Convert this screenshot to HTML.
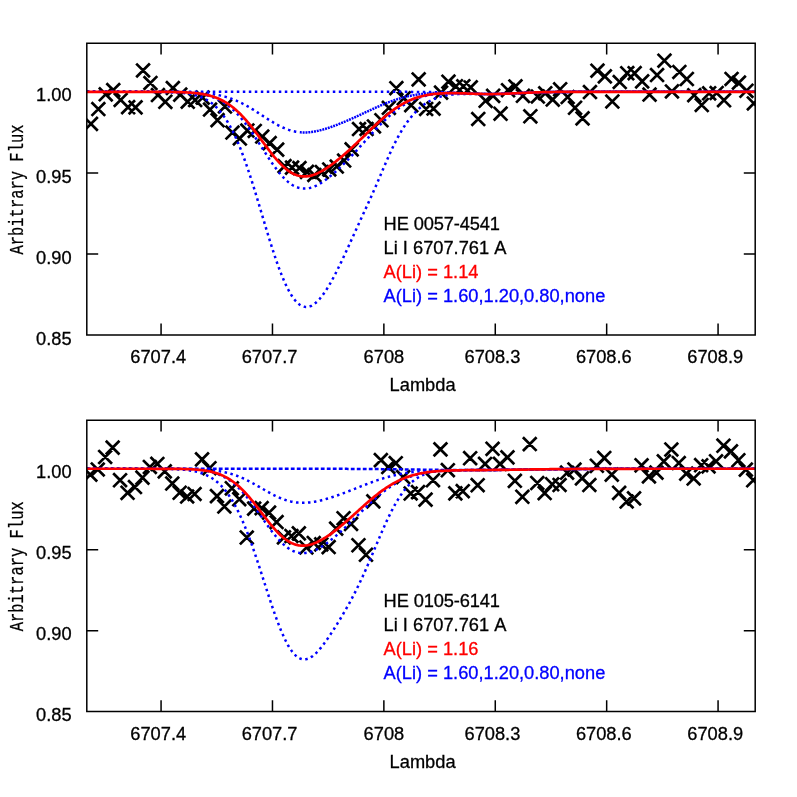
<!DOCTYPE html>
<html><head><meta charset="utf-8"><title>Li fits</title>
<style>
html,body{margin:0;padding:0;background:#fff;}
svg{display:block;will-change:transform;}
text{font-family:"Liberation Sans",sans-serif;font-size:18.25px;fill:#000;font-kerning:none;stroke:#000;stroke-width:0.3px;}
.yl{font-family:"Liberation Mono",monospace;}
</style></head><body>
<svg width="797" height="797" viewBox="0 0 797 797">
<rect x="0" y="0" width="797" height="797" fill="#fff"/>
<defs>
<clipPath id="c0"><rect x="86.8" y="43.2" width="668.4" height="291.8"/></clipPath>
<clipPath id="c1"><rect x="86.8" y="420.2" width="668.4" height="291.4"/></clipPath>
</defs>

<path d="M161.07,335.0v-11.4M161.07,43.2v11.4M272.47,335.0v-11.4M272.47,43.2v11.4M383.87,335.0v-11.4M383.87,43.2v11.4M495.27,335.0v-11.4M495.27,43.2v11.4M606.67,335.0v-11.4M606.67,43.2v11.4M718.07,335.0v-11.4M718.07,43.2v11.4M86.8,253.94h11.4M755.2,253.94h-11.4M86.8,172.89h11.4M755.2,172.89h-11.4M86.8,91.83h11.4M755.2,91.83h-11.4" stroke="#000" stroke-width="1.5" fill="none"/>
<g clip-path="url(#c0)">
<path d="M84.1,117.0l13.7,13.7M84.1,130.7l13.7,-13.7M91.5,102.2l13.7,13.7M91.5,115.9l13.7,-13.7M98.9,87.5l13.7,13.7M98.9,101.1l13.7,-13.7M106.4,83.2l13.7,13.7M106.4,96.9l13.7,-13.7M113.8,93.1l13.7,13.7M113.8,106.8l13.7,-13.7M121.3,100.4l13.7,13.7M121.3,114.0l13.7,-13.7M128.7,100.6l13.7,13.7M128.7,114.2l13.7,-13.7M136.2,63.6l13.7,13.7M136.2,77.2l13.7,-13.7M143.6,76.2l13.7,13.7M143.6,89.8l13.7,-13.7M151.1,88.2l13.7,13.7M151.1,101.9l13.7,-13.7M158.5,95.0l13.7,13.7M158.5,108.6l13.7,-13.7M166.0,81.2l13.7,13.7M166.0,94.9l13.7,-13.7M173.4,87.9l13.7,13.7M173.4,101.5l13.7,-13.7M180.9,94.9l13.7,13.7M180.9,108.5l13.7,-13.7M188.3,93.2l13.7,13.7M188.3,106.9l13.7,-13.7M195.8,90.8l13.7,13.7M195.8,104.4l13.7,-13.7M203.2,102.8l13.7,13.7M203.2,116.4l13.7,-13.7M210.7,113.4l13.7,13.7M210.7,127.0l13.7,-13.7M218.1,99.7l13.7,13.7M218.1,113.3l13.7,-13.7M225.6,125.8l13.7,13.7M225.6,139.4l13.7,-13.7M233.0,131.7l13.7,13.7M233.0,145.3l13.7,-13.7M240.5,123.7l13.7,13.7M240.5,137.3l13.7,-13.7M247.9,124.1l13.7,13.7M247.9,137.8l13.7,-13.7M255.4,129.8l13.7,13.7M255.4,143.4l13.7,-13.7M262.8,136.3l13.7,13.7M262.8,150.0l13.7,-13.7M270.3,142.8l13.7,13.7M270.3,156.5l13.7,-13.7M277.7,159.3l13.7,13.7M277.7,173.0l13.7,-13.7M285.2,160.8l13.7,13.7M285.2,174.5l13.7,-13.7M292.6,161.2l13.7,13.7M292.6,174.9l13.7,-13.7M300.1,165.0l13.7,13.7M300.1,178.7l13.7,-13.7M307.5,168.2l13.7,13.7M307.5,181.8l13.7,-13.7M315.0,165.2l13.7,13.7M315.0,178.8l13.7,-13.7M322.4,162.6l13.7,13.7M322.4,176.2l13.7,-13.7M329.9,159.7l13.7,13.7M329.9,173.3l13.7,-13.7M337.3,153.7l13.7,13.7M337.3,167.3l13.7,-13.7M344.8,142.5l13.7,13.7M344.8,156.2l13.7,-13.7M352.2,122.2l13.7,13.7M352.2,135.9l13.7,-13.7M359.7,122.2l13.7,13.7M359.7,135.8l13.7,-13.7M367.1,119.6l13.7,13.7M367.1,133.2l13.7,-13.7M374.6,113.4l13.7,13.7M374.6,127.0l13.7,-13.7M382.0,101.0l13.7,13.7M382.0,114.6l13.7,-13.7M389.5,81.4l13.7,13.7M389.5,95.0l13.7,-13.7M396.9,91.5l13.7,13.7M396.9,105.1l13.7,-13.7M404.4,98.4l13.7,13.7M404.4,112.0l13.7,-13.7M411.8,72.6l13.7,13.7M411.8,86.2l13.7,-13.7M419.3,102.2l13.7,13.7M419.3,115.8l13.7,-13.7M426.7,101.8l13.7,13.7M426.7,115.4l13.7,-13.7M434.2,85.8l13.7,13.7M434.2,99.4l13.7,-13.7M441.6,74.9l13.7,13.7M441.6,88.5l13.7,-13.7M449.1,79.5l13.7,13.7M449.1,93.1l13.7,-13.7M456.5,79.5l13.7,13.7M456.5,93.1l13.7,-13.7M463.9,80.6l13.7,13.7M463.9,94.2l13.7,-13.7M471.4,112.2l13.7,13.7M471.4,125.8l13.7,-13.7M478.8,94.0l13.7,13.7M478.8,107.6l13.7,-13.7M486.3,89.0l13.7,13.7M486.3,102.6l13.7,-13.7M493.7,106.9l13.7,13.7M493.7,120.5l13.7,-13.7M501.2,83.4l13.7,13.7M501.2,97.0l13.7,-13.7M508.6,79.6l13.7,13.7M508.6,93.2l13.7,-13.7M516.1,89.0l13.7,13.7M516.1,102.6l13.7,-13.7M523.5,109.5l13.7,13.7M523.5,123.1l13.7,-13.7M531.0,89.7l13.7,13.7M531.0,103.3l13.7,-13.7M538.4,86.5l13.7,13.7M538.4,100.1l13.7,-13.7M545.9,92.8l13.7,13.7M545.9,106.4l13.7,-13.7M553.3,82.5l13.7,13.7M553.3,96.1l13.7,-13.7M560.8,90.2l13.7,13.7M560.8,103.9l13.7,-13.7M568.2,101.0l13.7,13.7M568.2,114.6l13.7,-13.7M575.7,111.6l13.7,13.7M575.7,125.2l13.7,-13.7M583.1,85.2l13.7,13.7M583.1,98.9l13.7,-13.7M590.6,63.9l13.7,13.7M590.6,77.5l13.7,-13.7M598.0,69.6l13.7,13.7M598.0,83.2l13.7,-13.7M605.5,94.7l13.7,13.7M605.5,108.3l13.7,-13.7M612.9,75.2l13.7,13.7M612.9,88.8l13.7,-13.7M620.4,66.4l13.7,13.7M620.4,80.0l13.7,-13.7M627.8,66.4l13.7,13.7M627.8,80.0l13.7,-13.7M635.3,74.6l13.7,13.7M635.3,88.2l13.7,-13.7M642.7,87.8l13.7,13.7M642.7,101.4l13.7,-13.7M650.2,68.2l13.7,13.7M650.2,81.9l13.7,-13.7M657.6,53.9l13.7,13.7M657.6,67.5l13.7,-13.7M665.1,84.6l13.7,13.7M665.1,98.2l13.7,-13.7M672.5,65.2l13.7,13.7M672.5,78.8l13.7,-13.7M680.0,72.2l13.7,13.7M680.0,85.8l13.7,-13.7M687.4,88.4l13.7,13.7M687.4,102.0l13.7,-13.7M694.9,98.2l13.7,13.7M694.9,111.8l13.7,-13.7M702.3,86.5l13.7,13.7M702.3,100.1l13.7,-13.7M709.8,86.2l13.7,13.7M709.8,99.8l13.7,-13.7M717.2,93.4l13.7,13.7M717.2,107.0l13.7,-13.7M724.7,72.1l13.7,13.7M724.7,85.8l13.7,-13.7M732.1,75.9l13.7,13.7M732.1,89.5l13.7,-13.7M739.6,84.0l13.7,13.7M739.6,97.6l13.7,-13.7M747.0,96.6l13.7,13.7M747.0,110.2l13.7,-13.7" stroke="#000" stroke-width="2.7" fill="none"/>
<path d="M86.8,91.83 L87.8,91.83 L88.8,91.83 L89.8,91.83 L90.8,91.83 L91.8,91.83 L92.8,91.83 L93.8,91.83 L94.8,91.83 L95.8,91.83 L96.8,91.83 L97.8,91.83 L98.8,91.83 L99.8,91.83 L100.8,91.83 L101.8,91.83 L102.8,91.83 L103.8,91.83 L104.8,91.83 L105.8,91.83 L106.8,91.83 L107.8,91.83 L108.8,91.83 L109.8,91.83 L110.8,91.83 L111.8,91.83 L112.8,91.83 L113.8,91.83 L114.8,91.83 L115.8,91.83 L116.8,91.83 L117.8,91.83 L118.8,91.83 L119.8,91.83 L120.8,91.83 L121.8,91.83 L122.8,91.83 L123.8,91.83 L124.8,91.83 L125.8,91.83 L126.8,91.83 L127.8,91.83 L128.8,91.83 L129.8,91.83 L130.8,91.83 L131.8,91.83 L132.8,91.83 L133.8,91.83 L134.8,91.83 L135.8,91.83 L136.8,91.83 L137.8,91.83 L138.8,91.83 L139.8,91.83 L140.8,91.83 L141.8,91.83 L142.8,91.83 L143.8,91.83 L144.8,91.83 L145.8,91.83 L146.8,91.83 L147.8,91.83 L148.8,91.83 L149.8,91.83 L150.8,91.83 L151.8,91.83 L152.8,91.83 L153.8,91.83 L154.8,91.83 L155.8,91.83 L156.8,91.83 L157.8,91.83 L158.8,91.83 L159.8,91.83 L160.8,91.83 L161.8,91.83 L162.8,91.83 L163.8,91.83 L164.8,91.83 L165.8,91.83 L166.8,91.83 L167.8,91.83 L168.8,91.83 L169.8,91.83 L170.8,91.83 L171.8,91.83 L172.8,91.83 L173.8,91.83 L174.8,91.83 L175.8,91.83 L176.8,91.83 L177.8,91.83 L178.8,91.83 L179.8,91.83 L180.8,91.83 L181.8,91.83 L182.8,91.83 L183.8,91.83 L184.8,91.83 L185.8,91.83 L186.8,91.83 L187.8,91.83 L188.8,91.83 L189.8,91.83 L190.8,91.83 L191.8,91.83 L192.8,91.83 L193.8,91.83 L194.8,91.83 L195.8,91.83 L196.8,91.83 L197.8,91.83 L198.8,91.83 L199.8,91.83 L200.8,91.83 L201.8,91.83 L202.8,91.83 L203.8,91.83 L204.8,91.83 L205.8,91.83 L206.8,91.83 L207.8,91.83 L208.8,91.83 L209.8,91.83 L210.8,91.83 L211.8,91.83 L212.8,91.83 L213.8,91.83 L214.8,91.83 L215.8,91.83 L216.8,91.83 L217.8,91.83 L218.8,91.83 L219.8,91.83 L220.8,91.83 L221.8,91.83 L222.8,91.83 L223.8,91.83 L224.8,91.83 L225.8,91.83 L226.8,91.83 L227.8,91.83 L228.8,91.83 L229.8,91.83 L230.8,91.83 L231.8,91.83 L232.8,91.83 L233.8,91.83 L234.8,91.83 L235.8,91.83 L236.8,91.83 L237.8,91.83 L238.8,91.83 L239.8,91.83 L240.8,91.83 L241.8,91.83 L242.8,91.83 L243.8,91.83 L244.8,91.83 L245.8,91.83 L246.8,91.83 L247.8,91.83 L248.8,91.83 L249.8,91.83 L250.8,91.83 L251.8,91.83 L252.8,91.83 L253.8,91.83 L254.8,91.83 L255.8,91.83 L256.8,91.83 L257.8,91.83 L258.8,91.83 L259.8,91.83 L260.8,91.83 L261.8,91.83 L262.8,91.83 L263.8,91.83 L264.8,91.83 L265.8,91.83 L266.8,91.83 L267.8,91.83 L268.8,91.83 L269.8,91.83 L270.8,91.83 L271.8,91.83 L272.8,91.83 L273.8,91.83 L274.8,91.83 L275.8,91.83 L276.8,91.83 L277.8,91.83 L278.8,91.83 L279.8,91.83 L280.8,91.83 L281.8,91.83 L282.8,91.83 L283.8,91.83 L284.8,91.83 L285.8,91.83 L286.8,91.83 L287.8,91.83 L288.8,91.83 L289.8,91.83 L290.8,91.83 L291.8,91.83 L292.8,91.83 L293.8,91.83 L294.8,91.83 L295.8,91.83 L296.8,91.83 L297.8,91.83 L298.8,91.83 L299.8,91.83 L300.8,91.83 L301.8,91.83 L302.8,91.83 L303.8,91.83 L304.8,91.83 L305.8,91.83 L306.8,91.83 L307.8,91.83 L308.8,91.83 L309.8,91.83 L310.8,91.83 L311.8,91.83 L312.8,91.83 L313.8,91.83 L314.8,91.83 L315.8,91.83 L316.8,91.83 L317.8,91.83 L318.8,91.83 L319.8,91.83 L320.8,91.83 L321.8,91.83 L322.8,91.83 L323.8,91.83 L324.8,91.83 L325.8,91.83 L326.8,91.83 L327.8,91.83 L328.8,91.83 L329.8,91.83 L330.8,91.83 L331.8,91.83 L332.8,91.83 L333.8,91.83 L334.8,91.83 L335.8,91.83 L336.8,91.83 L337.8,91.83 L338.8,91.83 L339.8,91.83 L340.8,91.83 L341.8,91.83 L342.8,91.83 L343.8,91.83 L344.8,91.83 L345.8,91.83 L346.8,91.83 L347.8,91.83 L348.8,91.83 L349.8,91.83 L350.8,91.83 L351.8,91.83 L352.8,91.83 L353.8,91.83 L354.8,91.83 L355.8,91.83 L356.8,91.83 L357.8,91.83 L358.8,91.83 L359.8,91.83 L360.8,91.83 L361.8,91.83 L362.8,91.83 L363.8,91.83 L364.8,91.83 L365.8,91.83 L366.8,91.83 L367.8,91.83 L368.8,91.83 L369.8,91.83 L370.8,91.83 L371.8,91.83 L372.8,91.83 L373.8,91.83 L374.8,91.83 L375.8,91.83 L376.8,91.83 L377.8,91.83 L378.8,91.83 L379.8,91.83 L380.8,91.83 L381.8,91.83 L382.8,91.83 L383.8,91.83 L384.8,91.84 L385.8,91.84 L386.8,91.84 L387.8,91.84 L388.8,91.84 L389.8,91.84 L390.8,91.84 L391.8,91.84 L392.8,91.84 L393.8,91.84 L394.8,91.84 L395.8,91.84 L396.8,91.84 L397.8,91.84 L398.8,91.84 L399.8,91.85 L400.8,91.85 L401.8,91.85 L402.8,91.85 L403.8,91.85 L404.8,91.85 L405.8,91.86 L406.8,91.86 L407.8,91.86 L408.8,91.87 L409.8,91.87 L410.8,91.87 L411.8,91.88 L412.8,91.88 L413.8,91.89 L414.8,91.89 L415.8,91.90 L416.8,91.91 L417.8,91.91 L418.8,91.92 L419.8,91.93 L420.8,91.94 L421.8,91.95 L422.8,91.96 L423.8,91.97 L424.8,91.98 L425.8,91.99 L426.8,92.01 L427.8,92.02 L428.8,92.04 L429.8,92.05 L430.8,92.07 L431.8,92.09 L432.8,92.11 L433.8,92.13 L434.8,92.15 L435.8,92.17 L436.8,92.20 L437.8,92.22 L438.8,92.25 L439.8,92.27 L440.8,92.30 L441.8,92.33 L442.8,92.36 L443.8,92.40 L444.8,92.43 L445.8,92.47 L446.8,92.50 L447.8,92.54 L448.8,92.58 L449.8,92.62 L450.8,92.66 L451.8,92.70 L452.8,92.74 L453.8,92.79 L454.8,92.83 L455.8,92.88 L456.8,92.92 L457.8,92.97 L458.8,93.02 L459.8,93.06 L460.8,93.11 L461.8,93.16 L462.8,93.21 L463.8,93.25 L464.8,93.30 L465.8,93.35 L466.8,93.39 L467.8,93.44 L468.8,93.49 L469.8,93.53 L470.8,93.57 L471.8,93.61 L472.8,93.66 L473.8,93.69 L474.8,93.73 L475.8,93.77 L476.8,93.80 L477.8,93.83 L478.8,93.86 L479.8,93.89 L480.8,93.92 L481.8,93.94 L482.8,93.96 L483.8,93.98 L484.8,94.00 L485.8,94.01 L486.8,94.02 L487.8,94.03 L488.8,94.03 L489.8,94.03 L490.8,94.03 L491.8,94.03 L492.8,94.02 L493.8,94.01 L494.8,94.00 L495.8,93.99 L496.8,93.97 L497.8,93.95 L498.8,93.93 L499.8,93.90 L500.8,93.88 L501.8,93.85 L502.8,93.82 L503.8,93.78 L504.8,93.75 L505.8,93.71 L506.8,93.67 L507.8,93.63 L508.8,93.59 L509.8,93.55 L510.8,93.50 L511.8,93.46 L512.8,93.41 L513.8,93.37 L514.8,93.32 L515.8,93.27 L516.8,93.22 L517.8,93.18 L518.8,93.13 L519.8,93.08 L520.8,93.03 L521.8,92.99 L522.8,92.94 L523.8,92.90 L524.8,92.85 L525.8,92.80 L526.8,92.76 L527.8,92.72 L528.8,92.68 L529.8,92.63 L530.8,92.59 L531.8,92.56 L532.8,92.52 L533.8,92.48 L534.8,92.45 L535.8,92.41 L536.8,92.38 L537.8,92.35 L538.8,92.32 L539.8,92.29 L540.8,92.26 L541.8,92.23 L542.8,92.21 L543.8,92.18 L544.8,92.16 L545.8,92.14 L546.8,92.11 L547.8,92.09 L548.8,92.08 L549.8,92.06 L550.8,92.04 L551.8,92.03 L552.8,92.01 L553.8,92.00 L554.8,91.98 L555.8,91.97 L556.8,91.96 L557.8,91.95 L558.8,91.94 L559.8,91.93 L560.8,91.92 L561.8,91.92 L562.8,91.91 L563.8,91.90 L564.8,91.90 L565.8,91.89 L566.8,91.88 L567.8,91.88 L568.8,91.88 L569.8,91.87 L570.8,91.87 L571.8,91.86 L572.8,91.86 L573.8,91.86 L574.8,91.86 L575.8,91.85 L576.8,91.85 L577.8,91.85 L578.8,91.85 L579.8,91.85 L580.8,91.84 L581.8,91.84 L582.8,91.84 L583.8,91.84 L584.8,91.84 L585.8,91.84 L586.8,91.84 L587.8,91.84 L588.8,91.84 L589.8,91.84 L590.8,91.84 L591.8,91.84 L592.8,91.84 L593.8,91.84 L594.8,91.84 L595.8,91.84 L596.8,91.83 L597.8,91.83 L598.8,91.83 L599.8,91.83 L600.8,91.83 L601.8,91.83 L602.8,91.83 L603.8,91.83 L604.8,91.83 L605.8,91.83 L606.8,91.83 L607.8,91.83 L608.8,91.83 L609.8,91.83 L610.8,91.83 L611.8,91.83 L612.8,91.83 L613.8,91.83 L614.8,91.83 L615.8,91.83 L616.8,91.83 L617.8,91.83 L618.8,91.83 L619.8,91.83 L620.8,91.83 L621.8,91.83 L622.8,91.83 L623.8,91.83 L624.8,91.83 L625.8,91.83 L626.8,91.83 L627.8,91.83 L628.8,91.83 L629.8,91.83 L630.8,91.83 L631.8,91.83 L632.8,91.83 L633.8,91.83 L634.8,91.83 L635.8,91.83 L636.8,91.83 L637.8,91.83 L638.8,91.83 L639.8,91.83 L640.8,91.83 L641.8,91.83 L642.8,91.83 L643.8,91.83 L644.8,91.83 L645.8,91.83 L646.8,91.83 L647.8,91.83 L648.8,91.83 L649.8,91.83 L650.8,91.83 L651.8,91.83 L652.8,91.83 L653.8,91.83 L654.8,91.83 L655.8,91.83 L656.8,91.83 L657.8,91.83 L658.8,91.83 L659.8,91.83 L660.8,91.83 L661.8,91.83 L662.8,91.83 L663.8,91.83 L664.8,91.83 L665.8,91.83 L666.8,91.83 L667.8,91.83 L668.8,91.83 L669.8,91.83 L670.8,91.83 L671.8,91.83 L672.8,91.83 L673.8,91.83 L674.8,91.83 L675.8,91.83 L676.8,91.83 L677.8,91.83 L678.8,91.83 L679.8,91.83 L680.8,91.83 L681.8,91.83 L682.8,91.83 L683.8,91.83 L684.8,91.83 L685.8,91.83 L686.8,91.83 L687.8,91.83 L688.8,91.83 L689.8,91.83 L690.8,91.83 L691.8,91.83 L692.8,91.83 L693.8,91.83 L694.8,91.83 L695.8,91.83 L696.8,91.83 L697.8,91.83 L698.8,91.83 L699.8,91.83 L700.8,91.83 L701.8,91.83 L702.8,91.83 L703.8,91.83 L704.8,91.83 L705.8,91.83 L706.8,91.83 L707.8,91.83 L708.8,91.83 L709.8,91.83 L710.8,91.83 L711.8,91.83 L712.8,91.83 L713.8,91.83 L714.8,91.83 L715.8,91.83 L716.8,91.83 L717.8,91.83 L718.8,91.83 L719.8,91.83 L720.8,91.83 L721.8,91.83 L722.8,91.83 L723.8,91.83 L724.8,91.83 L725.8,91.83 L726.8,91.83 L727.8,91.83 L728.8,91.83 L729.8,91.83 L730.8,91.83 L731.8,91.83 L732.8,91.83 L733.8,91.83 L734.8,91.83 L735.8,91.83 L736.8,91.83 L737.8,91.83 L738.8,91.83 L739.8,91.83 L740.8,91.83 L741.8,91.83 L742.8,91.83 L743.8,91.83 L744.8,91.83 L745.8,91.83 L746.8,91.83 L747.8,91.83 L748.8,91.83 L749.8,91.83 L750.8,91.83 L751.8,91.83 L752.8,91.83 L753.8,91.83 L754.8,91.83" stroke="#0000ff" stroke-width="2.5" stroke-dasharray="2.5 3.5" fill="none"/>
<path d="M86.8,91.83 L87.8,91.83 L88.8,91.83 L89.8,91.83 L90.8,91.83 L91.8,91.83 L92.8,91.83 L93.8,91.83 L94.8,91.83 L95.8,91.83 L96.8,91.83 L97.8,91.83 L98.8,91.83 L99.8,91.83 L100.8,91.83 L101.8,91.83 L102.8,91.83 L103.8,91.83 L104.8,91.83 L105.8,91.83 L106.8,91.83 L107.8,91.83 L108.8,91.83 L109.8,91.83 L110.8,91.83 L111.8,91.83 L112.8,91.83 L113.8,91.83 L114.8,91.83 L115.8,91.83 L116.8,91.83 L117.8,91.83 L118.8,91.83 L119.8,91.83 L120.8,91.83 L121.8,91.83 L122.8,91.83 L123.8,91.83 L124.8,91.83 L125.8,91.83 L126.8,91.83 L127.8,91.83 L128.8,91.83 L129.8,91.83 L130.8,91.83 L131.8,91.83 L132.8,91.83 L133.8,91.83 L134.8,91.83 L135.8,91.83 L136.8,91.83 L137.8,91.83 L138.8,91.83 L139.8,91.84 L140.8,91.84 L141.8,91.84 L142.8,91.84 L143.8,91.84 L144.8,91.84 L145.8,91.84 L146.8,91.84 L147.8,91.84 L148.8,91.84 L149.8,91.84 L150.8,91.84 L151.8,91.84 L152.8,91.84 L153.8,91.84 L154.8,91.84 L155.8,91.85 L156.8,91.85 L157.8,91.85 L158.8,91.85 L159.8,91.85 L160.8,91.85 L161.8,91.86 L162.8,91.86 L163.8,91.86 L164.8,91.87 L165.8,91.87 L166.8,91.87 L167.8,91.88 L168.8,91.88 L169.8,91.89 L170.8,91.90 L171.8,91.90 L172.8,91.91 L173.8,91.92 L174.8,91.93 L175.8,91.94 L176.8,91.95 L177.8,91.96 L178.8,91.97 L179.8,91.99 L180.8,92.00 L181.8,92.02 L182.8,92.04 L183.8,92.06 L184.8,92.08 L185.8,92.10 L186.8,92.13 L187.8,92.15 L188.8,92.18 L189.8,92.21 L190.8,92.25 L191.8,92.29 L192.8,92.33 L193.8,92.37 L194.8,92.41 L195.8,92.46 L196.8,92.52 L197.8,92.58 L198.8,92.64 L199.8,92.70 L200.8,92.78 L201.8,92.85 L202.8,92.93 L203.8,93.02 L204.8,93.11 L205.8,93.21 L206.8,93.31 L207.8,93.43 L208.8,93.54 L209.8,93.67 L210.8,93.80 L211.8,93.94 L212.8,94.09 L213.8,94.25 L214.8,94.42 L215.8,94.59 L216.8,94.78 L217.8,94.97 L218.8,95.18 L219.8,95.39 L220.8,95.62 L221.8,95.85 L222.8,96.10 L223.8,96.36 L224.8,96.63 L225.8,96.92 L226.8,97.21 L227.8,97.52 L228.8,97.84 L229.8,98.18 L230.8,98.53 L231.8,98.89 L232.8,99.26 L233.8,99.65 L234.8,100.05 L235.8,100.46 L236.8,100.89 L237.8,101.33 L238.8,101.79 L239.8,102.26 L240.8,102.74 L241.8,103.23 L242.8,103.74 L243.8,104.26 L244.8,104.79 L245.8,105.33 L246.8,105.89 L247.8,106.45 L248.8,107.03 L249.8,107.61 L250.8,108.21 L251.8,108.81 L252.8,109.42 L253.8,110.04 L254.8,110.67 L255.8,111.30 L256.8,111.94 L257.8,112.59 L258.8,113.23 L259.8,113.88 L260.8,114.54 L261.8,115.19 L262.8,115.84 L263.8,116.50 L264.8,117.15 L265.8,117.80 L266.8,118.44 L267.8,119.08 L268.8,119.72 L269.8,120.35 L270.8,120.97 L271.8,121.58 L272.8,122.19 L273.8,122.78 L274.8,123.36 L275.8,123.93 L276.8,124.49 L277.8,125.03 L278.8,125.56 L279.8,126.07 L280.8,126.57 L281.8,127.05 L282.8,127.51 L283.8,127.95 L284.8,128.38 L285.8,128.78 L286.8,129.17 L287.8,129.53 L288.8,129.88 L289.8,130.20 L290.8,130.50 L291.8,130.78 L292.8,131.04 L293.8,131.28 L294.8,131.49 L295.8,131.69 L296.8,131.86" stroke="#0000ff" stroke-width="2.5" stroke-dasharray="2.5 3.5" fill="none"/>
<path d="M299.8,132.24 L300.8,132.32 L301.8,132.39 L302.8,132.43 L303.8,132.45 L304.8,132.45 L305.8,132.44 L306.8,132.40 L307.8,132.34 L308.8,132.27 L309.8,132.18 L310.8,132.07 L311.8,131.94 L312.8,131.80 L313.8,131.64 L314.8,131.47 L315.8,131.28 L316.8,131.08 L317.8,130.87 L318.8,130.64 L319.8,130.40 L320.8,130.15 L321.8,129.88 L322.8,129.61 L323.8,129.32 L324.8,129.03 L325.8,128.72 L326.8,128.41 L327.8,128.09 L328.8,127.76 L329.8,127.42 L330.8,127.08 L331.8,126.73 L332.8,126.37 L333.8,126.01 L334.8,125.64 L335.8,125.26 L336.8,124.88 L337.8,124.49 L338.8,124.10 L339.8,123.70 L340.8,123.30 L341.8,122.90 L342.8,122.48 L343.8,122.07 L344.8,121.65 L345.8,121.23 L346.8,120.80 L347.8,120.38 L348.8,119.94 L349.8,119.51 L350.8,119.07 L351.8,118.63 L352.8,118.18 L353.8,117.73 L354.8,117.28 L355.8,116.83 L356.8,116.38 L357.8,115.92 L358.8,115.46 L359.8,115.00 L360.8,114.54 L361.8,114.08 L362.8,113.61 L363.8,113.15 L364.8,112.69 L365.8,112.22 L366.8,111.76 L367.8,111.29 L368.8,110.83 L369.8,110.37 L370.8,109.91 L371.8,109.45 L372.8,108.99 L373.8,108.54 L374.8,108.08 L375.8,107.63 L376.8,107.19 L377.8,106.74 L378.8,106.30 L379.8,105.87 L380.8,105.44 L381.8,105.01 L382.8,104.59 L383.8,104.18 L384.8,103.77 L385.8,103.36 L386.8,102.96 L387.8,102.57 L388.8,102.19 L389.8,101.81 L390.8,101.44 L391.8,101.08 L392.8,100.72 L393.8,100.37 L394.8,100.03 L395.8,99.70 L396.8,99.37 L397.8,99.06 L398.8,98.75 L399.8,98.45 L400.8,98.16 L401.8,97.88 L402.8,97.61 L403.8,97.34 L404.8,97.08 L405.8,96.84 L406.8,96.60 L407.8,96.37 L408.8,96.14 L409.8,95.93 L410.8,95.72 L411.8,95.53 L412.8,95.34 L413.8,95.16 L414.8,94.98 L415.8,94.82 L416.8,94.66 L417.8,94.51 L418.8,94.37 L419.8,94.24 L420.8,94.11 L421.8,93.99 L422.8,93.88 L423.8,93.77 L424.8,93.67 L425.8,93.57 L426.8,93.49 L427.8,93.41 L428.8,93.33 L429.8,93.26 L430.8,93.20 L431.8,93.14 L432.8,93.09 L433.8,93.04 L434.8,93.00 L435.8,92.96 L436.8,92.93 L437.8,92.90 L438.8,92.88 L439.8,92.86 L440.8,92.84 L441.8,92.83 L442.8,92.83 L443.8,92.82 L444.8,92.83 L445.8,92.83 L446.8,92.84 L447.8,92.85 L448.8,92.86 L449.8,92.88 L450.8,92.90 L451.8,92.92 L452.8,92.94 L453.8,92.97 L454.8,93.00 L455.8,93.03 L456.8,93.06 L457.8,93.10 L458.8,93.13 L459.8,93.17 L460.8,93.21 L461.8,93.25 L462.8,93.29 L463.8,93.33 L464.8,93.37 L465.8,93.41 L466.8,93.45 L467.8,93.49 L468.8,93.53 L469.8,93.57 L470.8,93.61 L471.8,93.65 L472.8,93.68 L473.8,93.72 L474.8,93.76 L475.8,93.79 L476.8,93.82 L477.8,93.85 L478.8,93.88 L479.8,93.91 L480.8,93.93 L481.8,93.95 L482.8,93.97 L483.8,93.99 L484.8,94.00 L485.8,94.02 L486.8,94.03 L487.8,94.03 L488.8,94.04 L489.8,94.04 L490.8,94.04 L491.8,94.03 L492.8,94.03 L493.8,94.02 L494.8,94.00 L495.8,93.99 L496.8,93.97 L497.8,93.95 L498.8,93.93 L499.8,93.90 L500.8,93.88 L501.8,93.85 L502.8,93.82 L503.8,93.78 L504.8,93.75 L505.8,93.71 L506.8,93.67 L507.8,93.63 L508.8,93.59 L509.8,93.55 L510.8,93.50 L511.8,93.46 L512.8,93.41 L513.8,93.37 L514.8,93.32 L515.8,93.27 L516.8,93.22 L517.8,93.18 L518.8,93.13 L519.8,93.08 L520.8,93.03 L521.8,92.99 L522.8,92.94 L523.8,92.90 L524.8,92.85 L525.8,92.80 L526.8,92.76 L527.8,92.72 L528.8,92.68 L529.8,92.63 L530.8,92.59 L531.8,92.56 L532.8,92.52 L533.8,92.48 L534.8,92.45 L535.8,92.41 L536.8,92.38 L537.8,92.35 L538.8,92.32 L539.8,92.29 L540.8,92.26 L541.8,92.23 L542.8,92.21 L543.8,92.18 L544.8,92.16 L545.8,92.14 L546.8,92.11 L547.8,92.09 L548.8,92.08 L549.8,92.06 L550.8,92.04 L551.8,92.03 L552.8,92.01 L553.8,92.00 L554.8,91.98 L555.8,91.97 L556.8,91.96 L557.8,91.95 L558.8,91.94 L559.8,91.93 L560.8,91.92 L561.8,91.92 L562.8,91.91 L563.8,91.90 L564.8,91.90 L565.8,91.89 L566.8,91.88 L567.8,91.88 L568.8,91.88 L569.8,91.87 L570.8,91.87 L571.8,91.86 L572.8,91.86 L573.8,91.86 L574.8,91.86 L575.8,91.85 L576.8,91.85 L577.8,91.85 L578.8,91.85 L579.8,91.85 L580.8,91.84 L581.8,91.84 L582.8,91.84 L583.8,91.84 L584.8,91.84 L585.8,91.84 L586.8,91.84 L587.8,91.84 L588.8,91.84 L589.8,91.84 L590.8,91.84 L591.8,91.84 L592.8,91.84 L593.8,91.84 L594.8,91.84 L595.8,91.84 L596.8,91.83 L597.8,91.83 L598.8,91.83 L599.8,91.83 L600.8,91.83 L601.8,91.83 L602.8,91.83 L603.8,91.83 L604.8,91.83 L605.8,91.83 L606.8,91.83 L607.8,91.83 L608.8,91.83 L609.8,91.83 L610.8,91.83 L611.8,91.83 L612.8,91.83 L613.8,91.83 L614.8,91.83 L615.8,91.83 L616.8,91.83 L617.8,91.83 L618.8,91.83 L619.8,91.83 L620.8,91.83 L621.8,91.83 L622.8,91.83 L623.8,91.83 L624.8,91.83 L625.8,91.83 L626.8,91.83 L627.8,91.83 L628.8,91.83 L629.8,91.83 L630.8,91.83 L631.8,91.83 L632.8,91.83 L633.8,91.83 L634.8,91.83 L635.8,91.83 L636.8,91.83 L637.8,91.83 L638.8,91.83 L639.8,91.83 L640.8,91.83 L641.8,91.83 L642.8,91.83 L643.8,91.83 L644.8,91.83 L645.8,91.83 L646.8,91.83 L647.8,91.83 L648.8,91.83 L649.8,91.83 L650.8,91.83 L651.8,91.83 L652.8,91.83 L653.8,91.83 L654.8,91.83 L655.8,91.83 L656.8,91.83 L657.8,91.83 L658.8,91.83 L659.8,91.83 L660.8,91.83 L661.8,91.83 L662.8,91.83 L663.8,91.83 L664.8,91.83 L665.8,91.83 L666.8,91.83 L667.8,91.83 L668.8,91.83 L669.8,91.83 L670.8,91.83 L671.8,91.83 L672.8,91.83 L673.8,91.83 L674.8,91.83 L675.8,91.83 L676.8,91.83 L677.8,91.83 L678.8,91.83 L679.8,91.83 L680.8,91.83 L681.8,91.83 L682.8,91.83 L683.8,91.83 L684.8,91.83 L685.8,91.83 L686.8,91.83 L687.8,91.83 L688.8,91.83 L689.8,91.83 L690.8,91.83 L691.8,91.83 L692.8,91.83 L693.8,91.83 L694.8,91.83 L695.8,91.83 L696.8,91.83 L697.8,91.83 L698.8,91.83 L699.8,91.83 L700.8,91.83 L701.8,91.83 L702.8,91.83 L703.8,91.83 L704.8,91.83 L705.8,91.83 L706.8,91.83 L707.8,91.83 L708.8,91.83 L709.8,91.83 L710.8,91.83 L711.8,91.83 L712.8,91.83 L713.8,91.83 L714.8,91.83 L715.8,91.83 L716.8,91.83 L717.8,91.83 L718.8,91.83 L719.8,91.83 L720.8,91.83 L721.8,91.83 L722.8,91.83 L723.8,91.83 L724.8,91.83 L725.8,91.83 L726.8,91.83 L727.8,91.83 L728.8,91.83 L729.8,91.83 L730.8,91.83 L731.8,91.83 L732.8,91.83 L733.8,91.83 L734.8,91.83 L735.8,91.83 L736.8,91.83 L737.8,91.83 L738.8,91.83 L739.8,91.83 L740.8,91.83 L741.8,91.83 L742.8,91.83 L743.8,91.83 L744.8,91.83 L745.8,91.83 L746.8,91.83 L747.8,91.83 L748.8,91.83 L749.8,91.83 L750.8,91.83 L751.8,91.83 L752.8,91.83 L753.8,91.83 L754.8,91.83" stroke="#0000ff" stroke-width="2.5" stroke-dasharray="1.95 0.9" fill="none"/>
<path d="M86.8,91.83 L87.8,91.83 L88.8,91.83 L89.8,91.83 L90.8,91.83 L91.8,91.83 L92.8,91.83 L93.8,91.83 L94.8,91.83 L95.8,91.83 L96.8,91.83 L97.8,91.83 L98.8,91.83 L99.8,91.83 L100.8,91.83 L101.8,91.83 L102.8,91.83 L103.8,91.83 L104.8,91.83 L105.8,91.83 L106.8,91.83 L107.8,91.83 L108.8,91.83 L109.8,91.83 L110.8,91.83 L111.8,91.83 L112.8,91.83 L113.8,91.83 L114.8,91.83 L115.8,91.83 L116.8,91.83 L117.8,91.83 L118.8,91.83 L119.8,91.83 L120.8,91.83 L121.8,91.83 L122.8,91.83 L123.8,91.83 L124.8,91.83 L125.8,91.83 L126.8,91.83 L127.8,91.83 L128.8,91.83 L129.8,91.83 L130.8,91.83 L131.8,91.83 L132.8,91.83 L133.8,91.84 L134.8,91.84 L135.8,91.84 L136.8,91.84 L137.8,91.84 L138.8,91.84 L139.8,91.84 L140.8,91.84 L141.8,91.84 L142.8,91.84 L143.8,91.84 L144.8,91.84 L145.8,91.84 L146.8,91.84 L147.8,91.84 L148.8,91.85 L149.8,91.85 L150.8,91.85 L151.8,91.85 L152.8,91.85 L153.8,91.86 L154.8,91.86 L155.8,91.86 L156.8,91.87 L157.8,91.87 L158.8,91.87 L159.8,91.88 L160.8,91.88 L161.8,91.89 L162.8,91.90 L163.8,91.90 L164.8,91.91 L165.8,91.92 L166.8,91.93 L167.8,91.94 L168.8,91.95 L169.8,91.97 L170.8,91.98 L171.8,92.00 L172.8,92.02 L173.8,92.04 L174.8,92.06 L175.8,92.08 L176.8,92.11 L177.8,92.13 L178.8,92.16 L179.8,92.20 L180.8,92.23 L181.8,92.27 L182.8,92.32 L183.8,92.36 L184.8,92.41 L185.8,92.47 L186.8,92.53 L187.8,92.59 L188.8,92.66 L189.8,92.74 L190.8,92.82 L191.8,92.91 L192.8,93.01 L193.8,93.11 L194.8,93.22 L195.8,93.34 L196.8,93.47 L197.8,93.60 L198.8,93.75 L199.8,93.91 L200.8,94.08 L201.8,94.26 L202.8,94.45 L203.8,94.66 L204.8,94.88 L205.8,95.11 L206.8,95.36 L207.8,95.63 L208.8,95.91 L209.8,96.21 L210.8,96.52 L211.8,96.86 L212.8,97.21 L213.8,97.59 L214.8,97.98 L215.8,98.40 L216.8,98.84 L217.8,99.31 L218.8,99.79 L219.8,100.31 L220.8,100.85 L221.8,101.41 L222.8,102.00 L223.8,102.62 L224.8,103.27 L225.8,103.94 L226.8,104.65 L227.8,105.39 L228.8,106.15 L229.8,106.95 L230.8,107.78 L231.8,108.63 L232.8,109.53 L233.8,110.45 L234.8,111.40 L235.8,112.39 L236.8,113.41 L237.8,114.46 L238.8,115.54 L239.8,116.66 L240.8,117.80 L241.8,118.98 L242.8,120.19 L243.8,121.42 L244.8,122.69 L245.8,123.98 L246.8,125.30 L247.8,126.65 L248.8,128.02 L249.8,129.42 L250.8,130.83 L251.8,132.27 L252.8,133.73 L253.8,135.21 L254.8,136.70 L255.8,138.21 L256.8,139.73 L257.8,141.26 L258.8,142.81 L259.8,144.35 L260.8,145.91 L261.8,147.46 L262.8,149.02 L263.8,150.58 L264.8,152.13 L265.8,153.67 L266.8,155.21 L267.8,156.74 L268.8,158.25 L269.8,159.75 L270.8,161.23 L271.8,162.69 L272.8,164.12 L273.8,165.54 L274.8,166.92 L275.8,168.28 L276.8,169.61 L277.8,170.90 L278.8,172.16 L279.8,173.38 L280.8,174.56 L281.8,175.70 L282.8,176.80 L283.8,177.86 L284.8,178.87 L285.8,179.84 L286.8,180.75 L287.8,181.62 L288.8,182.44 L289.8,183.21 L290.8,183.93 L291.8,184.60 L292.8,185.22 L293.8,185.78 L294.8,186.29 L295.8,186.75 L296.8,187.16 L297.8,187.52 L298.8,187.82 L299.8,188.07 L300.8,188.27 L301.8,188.42 L302.8,188.53 L303.8,188.58 L304.8,188.58 L305.8,188.54 L306.8,188.45 L307.8,188.32 L308.8,188.15 L309.8,187.93 L310.8,187.67 L311.8,187.37 L312.8,187.03 L313.8,186.65 L314.8,186.24 L315.8,185.79 L316.8,185.31 L317.8,184.80 L318.8,184.26 L319.8,183.68 L320.8,183.08 L321.8,182.46 L322.8,181.80 L323.8,181.12 L324.8,180.42 L325.8,179.70 L326.8,178.95 L327.8,178.19 L328.8,177.40 L329.8,176.60 L330.8,175.78 L331.8,174.95 L332.8,174.09 L333.8,173.22 L334.8,172.34 L335.8,171.45 L336.8,170.54 L337.8,169.62 L338.8,168.68 L339.8,167.74 L340.8,166.78 L341.8,165.82 L342.8,164.84 L343.8,163.85 L344.8,162.86 L345.8,161.85 L346.8,160.84 L347.8,159.81 L348.8,158.78 L349.8,157.74 L350.8,156.70 L351.8,155.65 L352.8,154.59 L353.8,153.52 L354.8,152.45 L355.8,151.37 L356.8,150.29 L357.8,149.20 L358.8,148.11 L359.8,147.01 L360.8,145.92 L361.8,144.82 L362.8,143.71 L363.8,142.61 L364.8,141.50 L365.8,140.40 L366.8,139.29 L367.8,138.18 L368.8,137.08 L369.8,135.98 L370.8,134.88 L371.8,133.79 L372.8,132.70 L373.8,131.61 L374.8,130.54 L375.8,129.46 L376.8,128.40 L377.8,127.34 L378.8,126.30 L379.8,125.26 L380.8,124.23 L381.8,123.22 L382.8,122.22 L383.8,121.23 L384.8,120.25 L385.8,119.29 L386.8,118.34 L387.8,117.41 L388.8,116.49 L389.8,115.59 L390.8,114.71 L391.8,113.84 L392.8,112.99 L393.8,112.16 L394.8,111.35 L395.8,110.56 L396.8,109.78 L397.8,109.03 L398.8,108.29 L399.8,107.58 L400.8,106.89 L401.8,106.21 L402.8,105.56 L403.8,104.92 L404.8,104.31 L405.8,103.72 L406.8,103.14 L407.8,102.59 L408.8,102.06 L409.8,101.54 L410.8,101.05 L411.8,100.57 L412.8,100.11 L413.8,99.68 L414.8,99.26 L415.8,98.86 L416.8,98.47 L417.8,98.11 L418.8,97.76 L419.8,97.43 L420.8,97.11 L421.8,96.81 L422.8,96.53 L423.8,96.26 L424.8,96.00 L425.8,95.76 L426.8,95.54 L427.8,95.32 L428.8,95.12 L429.8,94.94 L430.8,94.76 L431.8,94.60 L432.8,94.45 L433.8,94.30 L434.8,94.17 L435.8,94.05 L436.8,93.94 L437.8,93.84 L438.8,93.75 L439.8,93.67 L440.8,93.59 L441.8,93.53 L442.8,93.47 L443.8,93.42 L444.8,93.37 L445.8,93.33 L446.8,93.30 L447.8,93.27 L448.8,93.25 L449.8,93.24 L450.8,93.23 L451.8,93.22 L452.8,93.22 L453.8,93.23 L454.8,93.23 L455.8,93.24 L456.8,93.26 L457.8,93.27 L458.8,93.29 L459.8,93.32 L460.8,93.34 L461.8,93.37 L462.8,93.40 L463.8,93.43 L464.8,93.46 L465.8,93.49 L466.8,93.52 L467.8,93.56 L468.8,93.59 L469.8,93.62 L470.8,93.66 L471.8,93.69 L472.8,93.73 L473.8,93.76 L474.8,93.79 L475.8,93.82 L476.8,93.85 L477.8,93.88 L478.8,93.90 L479.8,93.93 L480.8,93.95 L481.8,93.97 L482.8,93.99 L483.8,94.00 L484.8,94.01 L485.8,94.03 L486.8,94.03 L487.8,94.04 L488.8,94.04 L489.8,94.04 L490.8,94.04 L491.8,94.04 L492.8,94.03 L493.8,94.02 L494.8,94.01 L495.8,93.99 L496.8,93.97 L497.8,93.95 L498.8,93.93 L499.8,93.91 L500.8,93.88 L501.8,93.85 L502.8,93.82 L503.8,93.78 L504.8,93.75 L505.8,93.71 L506.8,93.67 L507.8,93.63 L508.8,93.59 L509.8,93.55 L510.8,93.50 L511.8,93.46 L512.8,93.41 L513.8,93.37 L514.8,93.32 L515.8,93.27 L516.8,93.23 L517.8,93.18 L518.8,93.13 L519.8,93.08 L520.8,93.03 L521.8,92.99 L522.8,92.94 L523.8,92.90 L524.8,92.85 L525.8,92.80 L526.8,92.76 L527.8,92.72 L528.8,92.68 L529.8,92.63 L530.8,92.59 L531.8,92.56 L532.8,92.52 L533.8,92.48 L534.8,92.45 L535.8,92.41 L536.8,92.38 L537.8,92.35 L538.8,92.32 L539.8,92.29 L540.8,92.26 L541.8,92.23 L542.8,92.21 L543.8,92.18 L544.8,92.16 L545.8,92.14 L546.8,92.11 L547.8,92.09 L548.8,92.08 L549.8,92.06 L550.8,92.04 L551.8,92.03 L552.8,92.01 L553.8,92.00 L554.8,91.98 L555.8,91.97 L556.8,91.96 L557.8,91.95 L558.8,91.94 L559.8,91.93 L560.8,91.92 L561.8,91.92 L562.8,91.91 L563.8,91.90 L564.8,91.90 L565.8,91.89 L566.8,91.88 L567.8,91.88 L568.8,91.88 L569.8,91.87 L570.8,91.87 L571.8,91.86 L572.8,91.86 L573.8,91.86 L574.8,91.86 L575.8,91.85 L576.8,91.85 L577.8,91.85 L578.8,91.85 L579.8,91.85 L580.8,91.84 L581.8,91.84 L582.8,91.84 L583.8,91.84 L584.8,91.84 L585.8,91.84 L586.8,91.84 L587.8,91.84 L588.8,91.84 L589.8,91.84 L590.8,91.84 L591.8,91.84 L592.8,91.84 L593.8,91.84 L594.8,91.84 L595.8,91.84 L596.8,91.83 L597.8,91.83 L598.8,91.83 L599.8,91.83 L600.8,91.83 L601.8,91.83 L602.8,91.83 L603.8,91.83 L604.8,91.83 L605.8,91.83 L606.8,91.83 L607.8,91.83 L608.8,91.83 L609.8,91.83 L610.8,91.83 L611.8,91.83 L612.8,91.83 L613.8,91.83 L614.8,91.83 L615.8,91.83 L616.8,91.83 L617.8,91.83 L618.8,91.83 L619.8,91.83 L620.8,91.83 L621.8,91.83 L622.8,91.83 L623.8,91.83 L624.8,91.83 L625.8,91.83 L626.8,91.83 L627.8,91.83 L628.8,91.83 L629.8,91.83 L630.8,91.83 L631.8,91.83 L632.8,91.83 L633.8,91.83 L634.8,91.83 L635.8,91.83 L636.8,91.83 L637.8,91.83 L638.8,91.83 L639.8,91.83 L640.8,91.83 L641.8,91.83 L642.8,91.83 L643.8,91.83 L644.8,91.83 L645.8,91.83 L646.8,91.83 L647.8,91.83 L648.8,91.83 L649.8,91.83 L650.8,91.83 L651.8,91.83 L652.8,91.83 L653.8,91.83 L654.8,91.83 L655.8,91.83 L656.8,91.83 L657.8,91.83 L658.8,91.83 L659.8,91.83 L660.8,91.83 L661.8,91.83 L662.8,91.83 L663.8,91.83 L664.8,91.83 L665.8,91.83 L666.8,91.83 L667.8,91.83 L668.8,91.83 L669.8,91.83 L670.8,91.83 L671.8,91.83 L672.8,91.83 L673.8,91.83 L674.8,91.83 L675.8,91.83 L676.8,91.83 L677.8,91.83 L678.8,91.83 L679.8,91.83 L680.8,91.83 L681.8,91.83 L682.8,91.83 L683.8,91.83 L684.8,91.83 L685.8,91.83 L686.8,91.83 L687.8,91.83 L688.8,91.83 L689.8,91.83 L690.8,91.83 L691.8,91.83 L692.8,91.83 L693.8,91.83 L694.8,91.83 L695.8,91.83 L696.8,91.83 L697.8,91.83 L698.8,91.83 L699.8,91.83 L700.8,91.83 L701.8,91.83 L702.8,91.83 L703.8,91.83 L704.8,91.83 L705.8,91.83 L706.8,91.83 L707.8,91.83 L708.8,91.83 L709.8,91.83 L710.8,91.83 L711.8,91.83 L712.8,91.83 L713.8,91.83 L714.8,91.83 L715.8,91.83 L716.8,91.83 L717.8,91.83 L718.8,91.83 L719.8,91.83 L720.8,91.83 L721.8,91.83 L722.8,91.83 L723.8,91.83 L724.8,91.83 L725.8,91.83 L726.8,91.83 L727.8,91.83 L728.8,91.83 L729.8,91.83 L730.8,91.83 L731.8,91.83 L732.8,91.83 L733.8,91.83 L734.8,91.83 L735.8,91.83 L736.8,91.83 L737.8,91.83 L738.8,91.83 L739.8,91.83 L740.8,91.83 L741.8,91.83 L742.8,91.83 L743.8,91.83 L744.8,91.83 L745.8,91.83 L746.8,91.83 L747.8,91.83 L748.8,91.83 L749.8,91.83 L750.8,91.83 L751.8,91.83 L752.8,91.83 L753.8,91.83 L754.8,91.83" stroke="#0000ff" stroke-width="2.5" stroke-dasharray="2.5 3.5" fill="none"/>
<path d="M86.8,91.83 L87.8,91.83 L88.8,91.83 L89.8,91.83 L90.8,91.83 L91.8,91.83 L92.8,91.83 L93.8,91.83 L94.8,91.83 L95.8,91.83 L96.8,91.83 L97.8,91.83 L98.8,91.83 L99.8,91.83 L100.8,91.83 L101.8,91.83 L102.8,91.83 L103.8,91.83 L104.8,91.83 L105.8,91.83 L106.8,91.83 L107.8,91.83 L108.8,91.83 L109.8,91.83 L110.8,91.83 L111.8,91.83 L112.8,91.83 L113.8,91.83 L114.8,91.83 L115.8,91.83 L116.8,91.83 L117.8,91.83 L118.8,91.83 L119.8,91.83 L120.8,91.83 L121.8,91.83 L122.8,91.83 L123.8,91.83 L124.8,91.83 L125.8,91.84 L126.8,91.84 L127.8,91.84 L128.8,91.84 L129.8,91.84 L130.8,91.84 L131.8,91.84 L132.8,91.84 L133.8,91.84 L134.8,91.84 L135.8,91.84 L136.8,91.84 L137.8,91.84 L138.8,91.84 L139.8,91.84 L140.8,91.85 L141.8,91.85 L142.8,91.85 L143.8,91.85 L144.8,91.85 L145.8,91.86 L146.8,91.86 L147.8,91.86 L148.8,91.87 L149.8,91.87 L150.8,91.87 L151.8,91.88 L152.8,91.89 L153.8,91.89 L154.8,91.90 L155.8,91.91 L156.8,91.92 L157.8,91.93 L158.8,91.94 L159.8,91.95 L160.8,91.96 L161.8,91.98 L162.8,91.99 L163.8,92.01 L164.8,92.03 L165.8,92.05 L166.8,92.08 L167.8,92.10 L168.8,92.13 L169.8,92.16 L170.8,92.20 L171.8,92.24 L172.8,92.28 L173.8,92.32 L174.8,92.37 L175.8,92.43 L176.8,92.49 L177.8,92.56 L178.8,92.63 L179.8,92.71 L180.8,92.79 L181.8,92.88 L182.8,92.98 L183.8,93.09 L184.8,93.21 L185.8,93.34 L186.8,93.48 L187.8,93.63 L188.8,93.79 L189.8,93.96 L190.8,94.15 L191.8,94.36 L192.8,94.57 L193.8,94.81 L194.8,95.06 L195.8,95.34 L196.8,95.63 L197.8,95.94 L198.8,96.28 L199.8,96.63 L200.8,97.02 L201.8,97.43 L202.8,97.87 L203.8,98.33 L204.8,98.83 L205.8,99.36 L206.8,99.92 L207.8,100.52 L208.8,101.15 L209.8,101.82 L210.8,102.53 L211.8,103.29 L212.8,104.08 L213.8,104.92 L214.8,105.81 L215.8,106.74 L216.8,107.73 L217.8,108.76 L218.8,109.85 L219.8,110.99 L220.8,112.19 L221.8,113.45 L222.8,114.76 L223.8,116.14 L224.8,117.57 L225.8,119.07 L226.8,120.64 L227.8,122.26 L228.8,123.96 L229.8,125.72 L230.8,127.54 L231.8,129.44 L232.8,131.40 L233.8,133.43 L234.8,135.54 L235.8,137.71 L236.8,139.94 L237.8,142.25 L238.8,144.63 L239.8,147.07 L240.8,149.57 L241.8,152.15 L242.8,154.78 L243.8,157.48 L244.8,160.24 L245.8,163.06 L246.8,165.94 L247.8,168.87 L248.8,171.85 L249.8,174.89 L250.8,177.96 L251.8,181.09 L252.8,184.25 L253.8,187.45 L254.8,190.69 L255.8,193.95 L256.8,197.25 L257.8,200.56 L258.8,203.89 L259.8,207.24 L260.8,210.60 L261.8,213.96 L262.8,217.33 L263.8,220.69 L264.8,224.04 L265.8,227.38 L266.8,230.70 L267.8,234.00 L268.8,237.28 L269.8,240.52 L270.8,243.73 L271.8,246.90 L272.8,250.03 L273.8,253.10 L274.8,256.12 L275.8,259.09 L276.8,261.99 L277.8,264.83 L278.8,267.60 L279.8,270.29 L280.8,272.91 L281.8,275.45 L282.8,277.90 L283.8,280.27 L284.8,282.55 L285.8,284.74 L286.8,286.83 L287.8,288.83 L288.8,290.73 L289.8,292.53 L290.8,294.22 L291.8,295.82 L292.8,297.30 L293.8,298.69 L294.8,299.96 L295.8,301.13 L296.8,302.19 L297.8,303.14 L298.8,303.99 L299.8,304.73 L300.8,305.36 L301.8,305.88 L302.8,306.30 L303.8,306.61 L304.8,306.82 L305.8,306.93 L306.8,306.94 L307.8,306.85 L308.8,306.66 L309.8,306.37 L310.8,305.99 L311.8,305.52 L312.8,304.96 L313.8,304.32 L314.8,303.59 L315.8,302.77 L316.8,301.88 L317.8,300.90 L318.8,299.86 L319.8,298.74 L320.8,297.55 L321.8,296.29 L322.8,294.97 L323.8,293.59 L324.8,292.14 L325.8,290.64 L326.8,289.09 L327.8,287.48 L328.8,285.83 L329.8,284.12 L330.8,282.37 L331.8,280.58 L332.8,278.75 L333.8,276.88 L334.8,274.98 L335.8,273.04 L336.8,271.07 L337.8,269.07 L338.8,267.04 L339.8,264.99 L340.8,262.91 L341.8,260.81 L342.8,258.69 L343.8,256.56 L344.8,254.41 L345.8,252.24 L346.8,250.07 L347.8,247.88 L348.8,245.68 L349.8,243.48 L350.8,241.28 L351.8,239.07 L352.8,236.87 L353.8,234.66 L354.8,232.45 L355.8,230.25 L356.8,228.06 L357.8,225.86 L358.8,223.67 L359.8,221.49 L360.8,219.31 L361.8,217.14 L362.8,214.97 L363.8,212.79 L364.8,210.62 L365.8,208.45 L366.8,206.27 L367.8,204.09 L368.8,201.89 L369.8,199.69 L370.8,197.47 L371.8,195.24 L372.8,192.99 L373.8,190.73 L374.8,188.45 L375.8,186.16 L376.8,183.85 L377.8,181.52 L378.8,179.19 L379.8,176.84 L380.8,174.49 L381.8,172.14 L382.8,169.78 L383.8,167.44 L384.8,165.10 L385.8,162.78 L386.8,160.47 L387.8,158.19 L388.8,155.93 L389.8,153.71 L390.8,151.52 L391.8,149.37 L392.8,147.26 L393.8,145.19 L394.8,143.17 L395.8,141.20 L396.8,139.27 L397.8,137.39 L398.8,135.56 L399.8,133.79 L400.8,132.06 L401.8,130.38 L402.8,128.75 L403.8,127.17 L404.8,125.63 L405.8,124.15 L406.8,122.71 L407.8,121.32 L408.8,119.98 L409.8,118.68 L410.8,117.42 L411.8,116.21 L412.8,115.04 L413.8,113.91 L414.8,112.82 L415.8,111.78 L416.8,110.77 L417.8,109.81 L418.8,108.88 L419.8,107.99 L420.8,107.13 L421.8,106.32 L422.8,105.54 L423.8,104.79 L424.8,104.08 L425.8,103.40 L426.8,102.75 L427.8,102.13 L428.8,101.55 L429.8,100.99 L430.8,100.47 L431.8,99.97 L432.8,99.50 L433.8,99.05 L434.8,98.63 L435.8,98.24 L436.8,97.86 L437.8,97.52 L438.8,97.19 L439.8,96.88 L440.8,96.60 L441.8,96.33 L442.8,96.09 L443.8,95.86 L444.8,95.64 L445.8,95.45 L446.8,95.27 L447.8,95.10 L448.8,94.95 L449.8,94.82 L450.8,94.69 L451.8,94.58 L452.8,94.48 L453.8,94.39 L454.8,94.30 L455.8,94.23 L456.8,94.17 L457.8,94.12 L458.8,94.07 L459.8,94.03 L460.8,94.00 L461.8,93.97 L462.8,93.95 L463.8,93.94 L464.8,93.92 L465.8,93.92 L466.8,93.91 L467.8,93.91 L468.8,93.92 L469.8,93.92 L470.8,93.93 L471.8,93.94 L472.8,93.95 L473.8,93.96 L474.8,93.98 L475.8,93.99 L476.8,94.00 L477.8,94.02 L478.8,94.03 L479.8,94.04 L480.8,94.05 L481.8,94.06 L482.8,94.07 L483.8,94.08 L484.8,94.08 L485.8,94.09 L486.8,94.09 L487.8,94.09 L488.8,94.09 L489.8,94.08 L490.8,94.08 L491.8,94.07 L492.8,94.06 L493.8,94.05 L494.8,94.03 L495.8,94.01 L496.8,93.99 L497.8,93.97 L498.8,93.95 L499.8,93.92 L500.8,93.89 L501.8,93.86 L502.8,93.83 L503.8,93.79 L504.8,93.76 L505.8,93.72 L506.8,93.68 L507.8,93.64 L508.8,93.59 L509.8,93.55 L510.8,93.51 L511.8,93.46 L512.8,93.42 L513.8,93.37 L514.8,93.32 L515.8,93.27 L516.8,93.23 L517.8,93.18 L518.8,93.13 L519.8,93.08 L520.8,93.04 L521.8,92.99 L522.8,92.94 L523.8,92.90 L524.8,92.85 L525.8,92.81 L526.8,92.76 L527.8,92.72 L528.8,92.68 L529.8,92.63 L530.8,92.59 L531.8,92.56 L532.8,92.52 L533.8,92.48 L534.8,92.45 L535.8,92.41 L536.8,92.38 L537.8,92.35 L538.8,92.32 L539.8,92.29 L540.8,92.26 L541.8,92.23 L542.8,92.21 L543.8,92.18 L544.8,92.16 L545.8,92.14 L546.8,92.11 L547.8,92.09 L548.8,92.08 L549.8,92.06 L550.8,92.04 L551.8,92.03 L552.8,92.01 L553.8,92.00 L554.8,91.98 L555.8,91.97 L556.8,91.96 L557.8,91.95 L558.8,91.94 L559.8,91.93 L560.8,91.92 L561.8,91.92 L562.8,91.91 L563.8,91.90 L564.8,91.90 L565.8,91.89 L566.8,91.88 L567.8,91.88 L568.8,91.88 L569.8,91.87 L570.8,91.87 L571.8,91.86 L572.8,91.86 L573.8,91.86 L574.8,91.86 L575.8,91.85 L576.8,91.85 L577.8,91.85 L578.8,91.85 L579.8,91.85 L580.8,91.84 L581.8,91.84 L582.8,91.84 L583.8,91.84 L584.8,91.84 L585.8,91.84 L586.8,91.84 L587.8,91.84 L588.8,91.84 L589.8,91.84 L590.8,91.84 L591.8,91.84 L592.8,91.84 L593.8,91.84 L594.8,91.84 L595.8,91.84 L596.8,91.83 L597.8,91.83 L598.8,91.83 L599.8,91.83 L600.8,91.83 L601.8,91.83 L602.8,91.83 L603.8,91.83 L604.8,91.83 L605.8,91.83 L606.8,91.83 L607.8,91.83 L608.8,91.83 L609.8,91.83 L610.8,91.83 L611.8,91.83 L612.8,91.83 L613.8,91.83 L614.8,91.83 L615.8,91.83 L616.8,91.83 L617.8,91.83 L618.8,91.83 L619.8,91.83 L620.8,91.83 L621.8,91.83 L622.8,91.83 L623.8,91.83 L624.8,91.83 L625.8,91.83 L626.8,91.83 L627.8,91.83 L628.8,91.83 L629.8,91.83 L630.8,91.83 L631.8,91.83 L632.8,91.83 L633.8,91.83 L634.8,91.83 L635.8,91.83 L636.8,91.83 L637.8,91.83 L638.8,91.83 L639.8,91.83 L640.8,91.83 L641.8,91.83 L642.8,91.83 L643.8,91.83 L644.8,91.83 L645.8,91.83 L646.8,91.83 L647.8,91.83 L648.8,91.83 L649.8,91.83 L650.8,91.83 L651.8,91.83 L652.8,91.83 L653.8,91.83 L654.8,91.83 L655.8,91.83 L656.8,91.83 L657.8,91.83 L658.8,91.83 L659.8,91.83 L660.8,91.83 L661.8,91.83 L662.8,91.83 L663.8,91.83 L664.8,91.83 L665.8,91.83 L666.8,91.83 L667.8,91.83 L668.8,91.83 L669.8,91.83 L670.8,91.83 L671.8,91.83 L672.8,91.83 L673.8,91.83 L674.8,91.83 L675.8,91.83 L676.8,91.83 L677.8,91.83 L678.8,91.83 L679.8,91.83 L680.8,91.83 L681.8,91.83 L682.8,91.83 L683.8,91.83 L684.8,91.83 L685.8,91.83 L686.8,91.83 L687.8,91.83 L688.8,91.83 L689.8,91.83 L690.8,91.83 L691.8,91.83 L692.8,91.83 L693.8,91.83 L694.8,91.83 L695.8,91.83 L696.8,91.83 L697.8,91.83 L698.8,91.83 L699.8,91.83 L700.8,91.83 L701.8,91.83 L702.8,91.83 L703.8,91.83 L704.8,91.83 L705.8,91.83 L706.8,91.83 L707.8,91.83 L708.8,91.83 L709.8,91.83 L710.8,91.83 L711.8,91.83 L712.8,91.83 L713.8,91.83 L714.8,91.83 L715.8,91.83 L716.8,91.83 L717.8,91.83 L718.8,91.83 L719.8,91.83 L720.8,91.83 L721.8,91.83 L722.8,91.83 L723.8,91.83 L724.8,91.83 L725.8,91.83 L726.8,91.83 L727.8,91.83 L728.8,91.83 L729.8,91.83 L730.8,91.83 L731.8,91.83 L732.8,91.83 L733.8,91.83 L734.8,91.83 L735.8,91.83 L736.8,91.83 L737.8,91.83 L738.8,91.83 L739.8,91.83 L740.8,91.83 L741.8,91.83 L742.8,91.83 L743.8,91.83 L744.8,91.83 L745.8,91.83 L746.8,91.83 L747.8,91.83 L748.8,91.83 L749.8,91.83 L750.8,91.83 L751.8,91.83 L752.8,91.83 L753.8,91.83 L754.8,91.83" stroke="#0000ff" stroke-width="2.5" stroke-dasharray="2.5 3.5" fill="none"/>
<path d="M86.8,91.83 L87.8,91.83 L88.8,91.83 L89.8,91.83 L90.8,91.83 L91.8,91.83 L92.8,91.83 L93.8,91.83 L94.8,91.83 L95.8,91.83 L96.8,91.83 L97.8,91.83 L98.8,91.83 L99.8,91.83 L100.8,91.83 L101.8,91.83 L102.8,91.83 L103.8,91.83 L104.8,91.83 L105.8,91.83 L106.8,91.83 L107.8,91.83 L108.8,91.83 L109.8,91.83 L110.8,91.83 L111.8,91.83 L112.8,91.83 L113.8,91.83 L114.8,91.83 L115.8,91.83 L116.8,91.83 L117.8,91.83 L118.8,91.83 L119.8,91.83 L120.8,91.83 L121.8,91.83 L122.8,91.83 L123.8,91.83 L124.8,91.83 L125.8,91.83 L126.8,91.83 L127.8,91.83 L128.8,91.83 L129.8,91.83 L130.8,91.83 L131.8,91.83 L132.8,91.83 L133.8,91.83 L134.8,91.84 L135.8,91.84 L136.8,91.84 L137.8,91.84 L138.8,91.84 L139.8,91.84 L140.8,91.84 L141.8,91.84 L142.8,91.84 L143.8,91.84 L144.8,91.84 L145.8,91.84 L146.8,91.84 L147.8,91.84 L148.8,91.84 L149.8,91.85 L150.8,91.85 L151.8,91.85 L152.8,91.85 L153.8,91.85 L154.8,91.86 L155.8,91.86 L156.8,91.86 L157.8,91.87 L158.8,91.87 L159.8,91.87 L160.8,91.88 L161.8,91.88 L162.8,91.89 L163.8,91.90 L164.8,91.90 L165.8,91.91 L166.8,91.92 L167.8,91.93 L168.8,91.94 L169.8,91.95 L170.8,91.96 L171.8,91.98 L172.8,91.99 L173.8,92.01 L174.8,92.03 L175.8,92.05 L176.8,92.07 L177.8,92.10 L178.8,92.12 L179.8,92.15 L180.8,92.18 L181.8,92.22 L182.8,92.26 L183.8,92.30 L184.8,92.34 L185.8,92.39 L186.8,92.44 L187.8,92.50 L188.8,92.56 L189.8,92.63 L190.8,92.70 L191.8,92.77 L192.8,92.86 L193.8,92.95 L194.8,93.04 L195.8,93.15 L196.8,93.26 L197.8,93.38 L198.8,93.51 L199.8,93.65 L200.8,93.80 L201.8,93.95 L202.8,94.12 L203.8,94.30 L204.8,94.49 L205.8,94.70 L206.8,94.92 L207.8,95.15 L208.8,95.40 L209.8,95.66 L210.8,95.93 L211.8,96.23 L212.8,96.54 L213.8,96.87 L214.8,97.21 L215.8,97.58 L216.8,97.96 L217.8,98.37 L218.8,98.79 L219.8,99.24 L220.8,99.71 L221.8,100.21 L222.8,100.73 L223.8,101.27 L224.8,101.83 L225.8,102.42 L226.8,103.04 L227.8,103.68 L228.8,104.35 L229.8,105.05 L230.8,105.77 L231.8,106.53 L232.8,107.30 L233.8,108.11 L234.8,108.95 L235.8,109.81 L236.8,110.70 L237.8,111.62 L238.8,112.57 L239.8,113.54 L240.8,114.54 L241.8,115.57 L242.8,116.63 L243.8,117.71 L244.8,118.81 L245.8,119.95 L246.8,121.10 L247.8,122.28 L248.8,123.48 L249.8,124.70 L250.8,125.94 L251.8,127.20 L252.8,128.47 L253.8,129.76 L254.8,131.07 L255.8,132.39 L256.8,133.72 L257.8,135.06 L258.8,136.41 L259.8,137.76 L260.8,139.12 L261.8,140.48 L262.8,141.84 L263.8,143.20 L264.8,144.56 L265.8,145.91 L266.8,147.25 L267.8,148.59 L268.8,149.91 L269.8,151.22 L270.8,152.52 L271.8,153.79 L272.8,155.05 L273.8,156.28 L274.8,157.50 L275.8,158.68 L276.8,159.84 L277.8,160.97 L278.8,162.07 L279.8,163.14 L280.8,164.17 L281.8,165.17 L282.8,166.13 L283.8,167.06 L284.8,167.94 L285.8,168.79 L286.8,169.59 L287.8,170.35 L288.8,171.07 L289.8,171.74 L290.8,172.37 L291.8,172.95 L292.8,173.49 L293.8,173.99 L294.8,174.43 L295.8,174.84 L296.8,175.19 L297.8,175.50 L298.8,175.77 L299.8,175.99 L300.8,176.17 L301.8,176.30 L302.8,176.39 L303.8,176.43 L304.8,176.44 L305.8,176.40 L306.8,176.32 L307.8,176.21 L308.8,176.05 L309.8,175.86 L310.8,175.64 L311.8,175.37 L312.8,175.08 L313.8,174.75 L314.8,174.39 L315.8,174.00 L316.8,173.58 L317.8,173.13 L318.8,172.65 L319.8,172.15 L320.8,171.63 L321.8,171.08 L322.8,170.51 L323.8,169.91 L324.8,169.30 L325.8,168.67 L326.8,168.02 L327.8,167.35 L328.8,166.66 L329.8,165.96 L330.8,165.24 L331.8,164.51 L332.8,163.77 L333.8,163.01 L334.8,162.24 L335.8,161.45 L336.8,160.66 L337.8,159.85 L338.8,159.04 L339.8,158.21 L340.8,157.37 L341.8,156.53 L342.8,155.67 L343.8,154.81 L344.8,153.94 L345.8,153.06 L346.8,152.17 L347.8,151.28 L348.8,150.38 L349.8,149.47 L350.8,148.56 L351.8,147.63 L352.8,146.71 L353.8,145.78 L354.8,144.84 L355.8,143.90 L356.8,142.95 L357.8,142.00 L358.8,141.04 L359.8,140.09 L360.8,139.13 L361.8,138.16 L362.8,137.20 L363.8,136.23 L364.8,135.27 L365.8,134.30 L366.8,133.33 L367.8,132.37 L368.8,131.40 L369.8,130.44 L370.8,129.48 L371.8,128.52 L372.8,127.57 L373.8,126.62 L374.8,125.68 L375.8,124.74 L376.8,123.81 L377.8,122.89 L378.8,121.97 L379.8,121.06 L380.8,120.17 L381.8,119.28 L382.8,118.40 L383.8,117.54 L384.8,116.68 L385.8,115.84 L386.8,115.01 L387.8,114.20 L388.8,113.39 L389.8,112.61 L390.8,111.83 L391.8,111.08 L392.8,110.34 L393.8,109.61 L394.8,108.90 L395.8,108.21 L396.8,107.53 L397.8,106.87 L398.8,106.23 L399.8,105.60 L400.8,105.00 L401.8,104.41 L402.8,103.84 L403.8,103.28 L404.8,102.75 L405.8,102.23 L406.8,101.73 L407.8,101.24 L408.8,100.78 L409.8,100.33 L410.8,99.89 L411.8,99.48 L412.8,99.08 L413.8,98.70 L414.8,98.33 L415.8,97.98 L416.8,97.65 L417.8,97.33 L418.8,97.03 L419.8,96.74 L420.8,96.46 L421.8,96.20 L422.8,95.95 L423.8,95.72 L424.8,95.50 L425.8,95.29 L426.8,95.09 L427.8,94.91 L428.8,94.73 L429.8,94.57 L430.8,94.42 L431.8,94.28 L432.8,94.15 L433.8,94.03 L434.8,93.92 L435.8,93.82 L436.8,93.72 L437.8,93.64 L438.8,93.56 L439.8,93.49 L440.8,93.43 L441.8,93.38 L442.8,93.33 L443.8,93.29 L444.8,93.25 L445.8,93.22 L446.8,93.20 L447.8,93.18 L448.8,93.17 L449.8,93.16 L450.8,93.16 L451.8,93.16 L452.8,93.16 L453.8,93.17 L454.8,93.18 L455.8,93.20 L456.8,93.22 L457.8,93.24 L458.8,93.26 L459.8,93.29 L460.8,93.31 L461.8,93.34 L462.8,93.37 L463.8,93.41 L464.8,93.44 L465.8,93.47 L466.8,93.51 L467.8,93.54 L468.8,93.58 L469.8,93.61 L470.8,93.65 L471.8,93.68 L472.8,93.72 L473.8,93.75 L474.8,93.78 L475.8,93.81 L476.8,93.84 L477.8,93.87 L478.8,93.90 L479.8,93.92 L480.8,93.94 L481.8,93.96 L482.8,93.98 L483.8,94.00 L484.8,94.01 L485.8,94.02 L486.8,94.03 L487.8,94.04 L488.8,94.04 L489.8,94.04 L490.8,94.04 L491.8,94.04 L492.8,94.03 L493.8,94.02 L494.8,94.01 L495.8,93.99 L496.8,93.97 L497.8,93.95 L498.8,93.93 L499.8,93.91 L500.8,93.88 L501.8,93.85 L502.8,93.82 L503.8,93.78 L504.8,93.75 L505.8,93.71 L506.8,93.67 L507.8,93.63 L508.8,93.59 L509.8,93.55 L510.8,93.50 L511.8,93.46 L512.8,93.41 L513.8,93.37 L514.8,93.32 L515.8,93.27 L516.8,93.23 L517.8,93.18 L518.8,93.13 L519.8,93.08 L520.8,93.03 L521.8,92.99 L522.8,92.94 L523.8,92.90 L524.8,92.85 L525.8,92.80 L526.8,92.76 L527.8,92.72 L528.8,92.68 L529.8,92.63 L530.8,92.59 L531.8,92.56 L532.8,92.52 L533.8,92.48 L534.8,92.45 L535.8,92.41 L536.8,92.38 L537.8,92.35 L538.8,92.32 L539.8,92.29 L540.8,92.26 L541.8,92.23 L542.8,92.21 L543.8,92.18 L544.8,92.16 L545.8,92.14 L546.8,92.11 L547.8,92.09 L548.8,92.08 L549.8,92.06 L550.8,92.04 L551.8,92.03 L552.8,92.01 L553.8,92.00 L554.8,91.98 L555.8,91.97 L556.8,91.96 L557.8,91.95 L558.8,91.94 L559.8,91.93 L560.8,91.92 L561.8,91.92 L562.8,91.91 L563.8,91.90 L564.8,91.90 L565.8,91.89 L566.8,91.88 L567.8,91.88 L568.8,91.88 L569.8,91.87 L570.8,91.87 L571.8,91.86 L572.8,91.86 L573.8,91.86 L574.8,91.86 L575.8,91.85 L576.8,91.85 L577.8,91.85 L578.8,91.85 L579.8,91.85 L580.8,91.84 L581.8,91.84 L582.8,91.84 L583.8,91.84 L584.8,91.84 L585.8,91.84 L586.8,91.84 L587.8,91.84 L588.8,91.84 L589.8,91.84 L590.8,91.84 L591.8,91.84 L592.8,91.84 L593.8,91.84 L594.8,91.84 L595.8,91.84 L596.8,91.83 L597.8,91.83 L598.8,91.83 L599.8,91.83 L600.8,91.83 L601.8,91.83 L602.8,91.83 L603.8,91.83 L604.8,91.83 L605.8,91.83 L606.8,91.83 L607.8,91.83 L608.8,91.83 L609.8,91.83 L610.8,91.83 L611.8,91.83 L612.8,91.83 L613.8,91.83 L614.8,91.83 L615.8,91.83 L616.8,91.83 L617.8,91.83 L618.8,91.83 L619.8,91.83 L620.8,91.83 L621.8,91.83 L622.8,91.83 L623.8,91.83 L624.8,91.83 L625.8,91.83 L626.8,91.83 L627.8,91.83 L628.8,91.83 L629.8,91.83 L630.8,91.83 L631.8,91.83 L632.8,91.83 L633.8,91.83 L634.8,91.83 L635.8,91.83 L636.8,91.83 L637.8,91.83 L638.8,91.83 L639.8,91.83 L640.8,91.83 L641.8,91.83 L642.8,91.83 L643.8,91.83 L644.8,91.83 L645.8,91.83 L646.8,91.83 L647.8,91.83 L648.8,91.83 L649.8,91.83 L650.8,91.83 L651.8,91.83 L652.8,91.83 L653.8,91.83 L654.8,91.83 L655.8,91.83 L656.8,91.83 L657.8,91.83 L658.8,91.83 L659.8,91.83 L660.8,91.83 L661.8,91.83 L662.8,91.83 L663.8,91.83 L664.8,91.83 L665.8,91.83 L666.8,91.83 L667.8,91.83 L668.8,91.83 L669.8,91.83 L670.8,91.83 L671.8,91.83 L672.8,91.83 L673.8,91.83 L674.8,91.83 L675.8,91.83 L676.8,91.83 L677.8,91.83 L678.8,91.83 L679.8,91.83 L680.8,91.83 L681.8,91.83 L682.8,91.83 L683.8,91.83 L684.8,91.83 L685.8,91.83 L686.8,91.83 L687.8,91.83 L688.8,91.83 L689.8,91.83 L690.8,91.83 L691.8,91.83 L692.8,91.83 L693.8,91.83 L694.8,91.83 L695.8,91.83 L696.8,91.83 L697.8,91.83 L698.8,91.83 L699.8,91.83 L700.8,91.83 L701.8,91.83 L702.8,91.83 L703.8,91.83 L704.8,91.83 L705.8,91.83 L706.8,91.83 L707.8,91.83 L708.8,91.83 L709.8,91.83 L710.8,91.83 L711.8,91.83 L712.8,91.83 L713.8,91.83 L714.8,91.83 L715.8,91.83 L716.8,91.83 L717.8,91.83 L718.8,91.83 L719.8,91.83 L720.8,91.83 L721.8,91.83 L722.8,91.83 L723.8,91.83 L724.8,91.83 L725.8,91.83 L726.8,91.83 L727.8,91.83 L728.8,91.83 L729.8,91.83 L730.8,91.83 L731.8,91.83 L732.8,91.83 L733.8,91.83 L734.8,91.83 L735.8,91.83 L736.8,91.83 L737.8,91.83 L738.8,91.83 L739.8,91.83 L740.8,91.83 L741.8,91.83 L742.8,91.83 L743.8,91.83 L744.8,91.83 L745.8,91.83 L746.8,91.83 L747.8,91.83 L748.8,91.83 L749.8,91.83 L750.8,91.83 L751.8,91.83 L752.8,91.83 L753.8,91.83 L754.8,91.83" stroke="#ff0000" stroke-width="2.7" fill="none" stroke-linejoin="round"/>
</g>
<path d="M86.8,43.2H755.2V335.0H86.8Z" stroke="#000" stroke-width="1.5" fill="none" stroke-linejoin="miter"/>
<text x="158.2" y="363.3" text-anchor="middle">6707.4</text>
<text x="269.6" y="363.3" text-anchor="middle">6707.7</text>
<text x="383.9" y="363.3" text-anchor="middle">6708</text>
<text x="492.4" y="363.3" text-anchor="middle">6708.3</text>
<text x="603.8" y="363.3" text-anchor="middle">6708.6</text>
<text x="715.2" y="363.3" text-anchor="middle">6708.9</text>
<text x="71.6" y="344.6" text-anchor="end">0.85</text>
<text x="71.6" y="263.5" text-anchor="end">0.90</text>
<text x="71.6" y="182.5" text-anchor="end">0.95</text>
<text x="71.6" y="101.4" text-anchor="end">1.00</text>
<text x="422.6" y="391.0" text-anchor="middle">Lambda</text>
<text class="yl" transform="translate(23.2,189.5) rotate(-90) scale(0.775,1)" text-anchor="middle" style="font-size:20px;stroke:#000;stroke-width:0.25px">Arbitrary Flux</text>
<text x="383.6" y="229.7" style="letter-spacing:-0.12px">HE 0057-4541</text>
<text x="383.6" y="253.9">Li I 6707.761 A</text>
<text x="383.6" y="278.1" style="fill:#ff0000;stroke:#ff0000">A(Li) = 1.14</text>
<text x="383.6" y="302.3" style="fill:#0000ff;stroke:#0000ff">A(Li) = 1.60,1.20,0.80,none</text>
<path d="M161.07,711.6v-11.4M161.07,420.2v11.4M272.47,711.6v-11.4M272.47,420.2v11.4M383.87,711.6v-11.4M383.87,420.2v11.4M495.27,711.6v-11.4M495.27,420.2v11.4M606.67,711.6v-11.4M606.67,420.2v11.4M718.07,711.6v-11.4M718.07,420.2v11.4M86.8,630.66h11.4M755.2,630.66h-11.4M86.8,549.71h11.4M755.2,549.71h-11.4M86.8,468.77h11.4M755.2,468.77h-11.4" stroke="#000" stroke-width="1.5" fill="none"/>
<g clip-path="url(#c1)">
<path d="M83.5,467.8l13.7,13.7M83.5,481.5l13.7,-13.7M90.9,462.6l13.7,13.7M90.9,476.4l13.7,-13.7M98.3,450.1l13.7,13.7M98.3,463.9l13.7,-13.7M105.8,440.8l13.7,13.7M105.8,454.5l13.7,-13.7M113.2,473.3l13.7,13.7M113.2,487.1l13.7,-13.7M120.7,485.9l13.7,13.7M120.7,499.7l13.7,-13.7M128.1,480.2l13.7,13.7M128.1,494.0l13.7,-13.7M135.6,470.8l13.7,13.7M135.6,484.6l13.7,-13.7M143.0,460.1l13.7,13.7M143.0,473.9l13.7,-13.7M150.5,457.0l13.7,13.7M150.5,470.8l13.7,-13.7M157.9,464.5l13.7,13.7M157.9,478.2l13.7,-13.7M165.4,476.6l13.7,13.7M165.4,490.4l13.7,-13.7M172.8,485.8l13.7,13.7M172.8,499.6l13.7,-13.7M180.3,489.6l13.7,13.7M180.3,503.4l13.7,-13.7M187.7,487.1l13.7,13.7M187.7,500.9l13.7,-13.7M195.2,452.5l13.7,13.7M195.2,466.2l13.7,-13.7M202.6,461.3l13.7,13.7M202.6,475.1l13.7,-13.7M210.1,489.2l13.7,13.7M210.1,503.0l13.7,-13.7M217.5,499.6l13.7,13.7M217.5,513.4l13.7,-13.7M225.0,481.4l13.7,13.7M225.0,495.2l13.7,-13.7M232.4,492.3l13.7,13.7M232.4,506.1l13.7,-13.7M239.9,530.6l13.7,13.7M239.9,544.4l13.7,-13.7M247.3,501.8l13.7,13.7M247.3,515.5l13.7,-13.7M254.8,501.3l13.7,13.7M254.8,515.0l13.7,-13.7M262.2,505.8l13.7,13.7M262.2,519.5l13.7,-13.7M269.7,515.2l13.7,13.7M269.7,529.0l13.7,-13.7M277.1,530.5l13.7,13.7M277.1,544.2l13.7,-13.7M284.6,529.1l13.7,13.7M284.6,542.9l13.7,-13.7M292.0,526.5l13.7,13.7M292.0,540.2l13.7,-13.7M299.5,540.6l13.7,13.7M299.5,554.4l13.7,-13.7M306.9,536.1l13.7,13.7M306.9,549.9l13.7,-13.7M314.4,537.5l13.7,13.7M314.4,551.2l13.7,-13.7M321.8,540.2l13.7,13.7M321.8,554.0l13.7,-13.7M329.3,521.8l13.7,13.7M329.3,535.5l13.7,-13.7M336.7,511.4l13.7,13.7M336.7,525.1l13.7,-13.7M344.2,517.1l13.7,13.7M344.2,530.9l13.7,-13.7M351.6,538.4l13.7,13.7M351.6,552.1l13.7,-13.7M359.1,547.9l13.7,13.7M359.1,561.6l13.7,-13.7M366.5,494.5l13.7,13.7M366.5,508.2l13.7,-13.7M374.0,453.2l13.7,13.7M374.0,467.0l13.7,-13.7M381.4,460.1l13.7,13.7M381.4,473.9l13.7,-13.7M388.9,456.3l13.7,13.7M388.9,470.1l13.7,-13.7M396.3,470.2l13.7,13.7M396.3,484.0l13.7,-13.7M403.8,486.6l13.7,13.7M403.8,500.4l13.7,-13.7M411.2,485.2l13.7,13.7M411.2,499.0l13.7,-13.7M418.7,492.8l13.7,13.7M418.7,506.5l13.7,-13.7M426.1,473.3l13.7,13.7M426.1,487.1l13.7,-13.7M433.6,442.5l13.7,13.7M433.6,456.2l13.7,-13.7M441.0,463.3l13.7,13.7M441.0,477.1l13.7,-13.7M448.5,486.5l13.7,13.7M448.5,500.2l13.7,-13.7M455.9,484.3l13.7,13.7M455.9,498.1l13.7,-13.7M463.3,451.3l13.7,13.7M463.3,465.1l13.7,-13.7M470.8,478.3l13.7,13.7M470.8,492.1l13.7,-13.7M478.2,457.0l13.7,13.7M478.2,470.8l13.7,-13.7M485.7,441.9l13.7,13.7M485.7,455.7l13.7,-13.7M493.1,457.0l13.7,13.7M493.1,470.8l13.7,-13.7M500.6,450.5l13.7,13.7M500.6,464.2l13.7,-13.7M508.0,473.9l13.7,13.7M508.0,487.7l13.7,-13.7M515.5,489.9l13.7,13.7M515.5,503.7l13.7,-13.7M522.9,437.2l13.7,13.7M522.9,451.0l13.7,-13.7M530.4,476.1l13.7,13.7M530.4,489.9l13.7,-13.7M537.8,486.2l13.7,13.7M537.8,500.0l13.7,-13.7M545.3,477.4l13.7,13.7M545.3,491.2l13.7,-13.7M552.7,478.1l13.7,13.7M552.7,491.9l13.7,-13.7M560.2,465.8l13.7,13.7M560.2,479.6l13.7,-13.7M567.6,462.6l13.7,13.7M567.6,476.4l13.7,-13.7M575.1,471.4l13.7,13.7M575.1,485.2l13.7,-13.7M582.5,478.1l13.7,13.7M582.5,491.9l13.7,-13.7M590.0,458.9l13.7,13.7M590.0,472.7l13.7,-13.7M597.4,451.0l13.7,13.7M597.4,464.8l13.7,-13.7M604.9,467.8l13.7,13.7M604.9,481.5l13.7,-13.7M612.3,485.9l13.7,13.7M612.3,499.7l13.7,-13.7M619.8,494.6l13.7,13.7M619.8,508.4l13.7,-13.7M627.2,491.5l13.7,13.7M627.2,505.2l13.7,-13.7M634.7,458.4l13.7,13.7M634.7,472.2l13.7,-13.7M642.1,469.5l13.7,13.7M642.1,483.2l13.7,-13.7M649.6,465.8l13.7,13.7M649.6,479.6l13.7,-13.7M657.0,454.5l13.7,13.7M657.0,468.2l13.7,-13.7M664.5,442.6l13.7,13.7M664.5,456.4l13.7,-13.7M671.9,456.1l13.7,13.7M671.9,469.9l13.7,-13.7M679.4,466.8l13.7,13.7M679.4,480.5l13.7,-13.7M686.8,471.6l13.7,13.7M686.8,485.4l13.7,-13.7M694.3,458.3l13.7,13.7M694.3,472.1l13.7,-13.7M701.7,459.5l13.7,13.7M701.7,473.2l13.7,-13.7M709.2,454.4l13.7,13.7M709.2,468.2l13.7,-13.7M716.6,438.8l13.7,13.7M716.6,452.6l13.7,-13.7M724.1,444.5l13.7,13.7M724.1,458.2l13.7,-13.7M731.5,453.3l13.7,13.7M731.5,467.1l13.7,-13.7M739.0,462.8l13.7,13.7M739.0,476.5l13.7,-13.7M746.4,473.3l13.7,13.7M746.4,487.1l13.7,-13.7" stroke="#000" stroke-width="2.7" fill="none"/>
<path d="M86.8,468.77 L87.8,468.77 L88.8,468.77 L89.8,468.77 L90.8,468.77 L91.8,468.77 L92.8,468.77 L93.8,468.77 L94.8,468.77 L95.8,468.77 L96.8,468.77 L97.8,468.77 L98.8,468.77 L99.8,468.77 L100.8,468.77 L101.8,468.77 L102.8,468.77 L103.8,468.77 L104.8,468.77 L105.8,468.77 L106.8,468.77 L107.8,468.77 L108.8,468.77 L109.8,468.77 L110.8,468.77 L111.8,468.77 L112.8,468.77 L113.8,468.77 L114.8,468.77 L115.8,468.77 L116.8,468.77 L117.8,468.77 L118.8,468.77 L119.8,468.77 L120.8,468.77 L121.8,468.77 L122.8,468.77 L123.8,468.77 L124.8,468.77 L125.8,468.77 L126.8,468.77 L127.8,468.77 L128.8,468.77 L129.8,468.77 L130.8,468.77 L131.8,468.77 L132.8,468.77 L133.8,468.77 L134.8,468.77 L135.8,468.77 L136.8,468.77 L137.8,468.77 L138.8,468.77 L139.8,468.77 L140.8,468.77 L141.8,468.77 L142.8,468.77 L143.8,468.77 L144.8,468.77 L145.8,468.77 L146.8,468.77 L147.8,468.77 L148.8,468.77 L149.8,468.77 L150.8,468.77 L151.8,468.77 L152.8,468.77 L153.8,468.77 L154.8,468.77 L155.8,468.77 L156.8,468.77 L157.8,468.77 L158.8,468.77 L159.8,468.77 L160.8,468.77 L161.8,468.77 L162.8,468.77 L163.8,468.77 L164.8,468.77 L165.8,468.77 L166.8,468.77 L167.8,468.77 L168.8,468.77 L169.8,468.77 L170.8,468.77 L171.8,468.77 L172.8,468.77 L173.8,468.77 L174.8,468.77 L175.8,468.77 L176.8,468.77 L177.8,468.77 L178.8,468.77 L179.8,468.77 L180.8,468.77 L181.8,468.77 L182.8,468.77 L183.8,468.77 L184.8,468.77 L185.8,468.77 L186.8,468.77 L187.8,468.77 L188.8,468.77 L189.8,468.77 L190.8,468.77 L191.8,468.77 L192.8,468.77 L193.8,468.77 L194.8,468.77 L195.8,468.77 L196.8,468.77 L197.8,468.77 L198.8,468.77 L199.8,468.77 L200.8,468.77 L201.8,468.77 L202.8,468.77 L203.8,468.77 L204.8,468.77 L205.8,468.77 L206.8,468.77 L207.8,468.77 L208.8,468.77 L209.8,468.77 L210.8,468.77 L211.8,468.77 L212.8,468.77 L213.8,468.77 L214.8,468.77 L215.8,468.77 L216.8,468.77 L217.8,468.77 L218.8,468.77 L219.8,468.77 L220.8,468.77 L221.8,468.77 L222.8,468.77 L223.8,468.77 L224.8,468.77 L225.8,468.77 L226.8,468.77 L227.8,468.77 L228.8,468.77 L229.8,468.77 L230.8,468.77 L231.8,468.77 L232.8,468.77 L233.8,468.77 L234.8,468.77 L235.8,468.77 L236.8,468.77 L237.8,468.77 L238.8,468.77 L239.8,468.77 L240.8,468.77 L241.8,468.77 L242.8,468.77 L243.8,468.77 L244.8,468.77 L245.8,468.77 L246.8,468.77 L247.8,468.77 L248.8,468.77 L249.8,468.77 L250.8,468.77 L251.8,468.77 L252.8,468.77 L253.8,468.77 L254.8,468.77 L255.8,468.77 L256.8,468.77 L257.8,468.77 L258.8,468.77 L259.8,468.77 L260.8,468.77 L261.8,468.77 L262.8,468.77 L263.8,468.77 L264.8,468.77 L265.8,468.77 L266.8,468.77 L267.8,468.77 L268.8,468.77 L269.8,468.77 L270.8,468.77 L271.8,468.77 L272.8,468.77 L273.8,468.77 L274.8,468.77 L275.8,468.77 L276.8,468.77 L277.8,468.77 L278.8,468.77 L279.8,468.77 L280.8,468.77 L281.8,468.77 L282.8,468.77 L283.8,468.77 L284.8,468.77 L285.8,468.77 L286.8,468.77 L287.8,468.77 L288.8,468.77 L289.8,468.77 L290.8,468.77 L291.8,468.77 L292.8,468.77 L293.8,468.77 L294.8,468.77 L295.8,468.78 L296.8,468.78 L297.8,468.78 L298.8,468.78 L299.8,468.78 L300.8,468.78 L301.8,468.78 L302.8,468.78 L303.8,468.78 L304.8,468.78 L305.8,468.78 L306.8,468.78 L307.8,468.78 L308.8,468.78 L309.8,468.79 L310.8,468.79 L311.8,468.79 L312.8,468.79 L313.8,468.79 L314.8,468.79 L315.8,468.79 L316.8,468.79 L317.8,468.79 L318.8,468.80 L319.8,468.80 L320.8,468.80 L321.8,468.80 L322.8,468.80 L323.8,468.80 L324.8,468.81 L325.8,468.81 L326.8,468.81 L327.8,468.81 L328.8,468.81 L329.8,468.82 L330.8,468.82 L331.8,468.82 L332.8,468.82 L333.8,468.83 L334.8,468.83 L335.8,468.83 L336.8,468.84 L337.8,468.84 L338.8,468.84 L339.8,468.85 L340.8,468.85 L341.8,468.85 L342.8,468.86 L343.8,468.86 L344.8,468.86 L345.8,468.87 L346.8,468.87 L347.8,468.88 L348.8,468.88 L349.8,468.89 L350.8,468.89 L351.8,468.90 L352.8,468.90 L353.8,468.91 L354.8,468.91 L355.8,468.92 L356.8,468.92 L357.8,468.93 L358.8,468.94 L359.8,468.94 L360.8,468.95 L361.8,468.95 L362.8,468.96 L363.8,468.97 L364.8,468.98 L365.8,468.98 L366.8,468.99 L367.8,469.00 L368.8,469.01 L369.8,469.01 L370.8,469.02 L371.8,469.03 L372.8,469.04 L373.8,469.05 L374.8,469.06 L375.8,469.07 L376.8,469.08 L377.8,469.09 L378.8,469.10 L379.8,469.11 L380.8,469.12 L381.8,469.13 L382.8,469.14 L383.8,469.15 L384.8,469.16 L385.8,469.17 L386.8,469.18 L387.8,469.19 L388.8,469.20 L389.8,469.22 L390.8,469.23 L391.8,469.24 L392.8,469.25 L393.8,469.26 L394.8,469.28 L395.8,469.29 L396.8,469.30 L397.8,469.32 L398.8,469.33 L399.8,469.34 L400.8,469.36 L401.8,469.37 L402.8,469.38 L403.8,469.40 L404.8,469.41 L405.8,469.42 L406.8,469.44 L407.8,469.45 L408.8,469.47 L409.8,469.48 L410.8,469.50 L411.8,469.51 L412.8,469.52 L413.8,469.54 L414.8,469.55 L415.8,469.57 L416.8,469.58 L417.8,469.60 L418.8,469.61 L419.8,469.62 L420.8,469.64 L421.8,469.65 L422.8,469.67 L423.8,469.68 L424.8,469.69 L425.8,469.71 L426.8,469.72 L427.8,469.74 L428.8,469.75 L429.8,469.76 L430.8,469.78 L431.8,469.79 L432.8,469.80 L433.8,469.81 L434.8,469.83 L435.8,469.84 L436.8,469.85 L437.8,469.86 L438.8,469.87 L439.8,469.88 L440.8,469.90 L441.8,469.91 L442.8,469.92 L443.8,469.93 L444.8,469.94 L445.8,469.95 L446.8,469.96 L447.8,469.96 L448.8,469.97 L449.8,469.98 L450.8,469.99 L451.8,470.00 L452.8,470.00 L453.8,470.01 L454.8,470.02 L455.8,470.02 L456.8,470.03 L457.8,470.04 L458.8,470.04 L459.8,470.04 L460.8,470.05 L461.8,470.05 L462.8,470.06 L463.8,470.06 L464.8,470.06 L465.8,470.06 L466.8,470.06 L467.8,470.07 L468.8,470.07 L469.8,470.07 L470.8,470.07 L471.8,470.07 L472.8,470.06 L473.8,470.06 L474.8,470.06 L475.8,470.06 L476.8,470.06 L477.8,470.05 L478.8,470.05 L479.8,470.05 L480.8,470.04 L481.8,470.04 L482.8,470.03 L483.8,470.03 L484.8,470.02 L485.8,470.01 L486.8,470.01 L487.8,470.00 L488.8,469.99 L489.8,469.99 L490.8,469.98 L491.8,469.97 L492.8,469.96 L493.8,469.95 L494.8,469.94 L495.8,469.93 L496.8,469.92 L497.8,469.91 L498.8,469.90 L499.8,469.89 L500.8,469.88 L501.8,469.87 L502.8,469.85 L503.8,469.84 L504.8,469.83 L505.8,469.82 L506.8,469.81 L507.8,469.79 L508.8,469.78 L509.8,469.77 L510.8,469.75 L511.8,469.74 L512.8,469.73 L513.8,469.71 L514.8,469.70 L515.8,469.69 L516.8,469.67 L517.8,469.66 L518.8,469.64 L519.8,469.63 L520.8,469.62 L521.8,469.60 L522.8,469.59 L523.8,469.57 L524.8,469.56 L525.8,469.54 L526.8,469.53 L527.8,469.52 L528.8,469.50 L529.8,469.49 L530.8,469.47 L531.8,469.46 L532.8,469.44 L533.8,469.43 L534.8,469.42 L535.8,469.40 L536.8,469.39 L537.8,469.37 L538.8,469.36 L539.8,469.35 L540.8,469.33 L541.8,469.32 L542.8,469.31 L543.8,469.30 L544.8,469.28 L545.8,469.27 L546.8,469.26 L547.8,469.24 L548.8,469.23 L549.8,469.22 L550.8,469.21 L551.8,469.20 L552.8,469.19 L553.8,469.17 L554.8,469.16 L555.8,469.15 L556.8,469.14 L557.8,469.13 L558.8,469.12 L559.8,469.11 L560.8,469.10 L561.8,469.09 L562.8,469.08 L563.8,469.07 L564.8,469.06 L565.8,469.05 L566.8,469.04 L567.8,469.03 L568.8,469.03 L569.8,469.02 L570.8,469.01 L571.8,469.00 L572.8,468.99 L573.8,468.99 L574.8,468.98 L575.8,468.97 L576.8,468.96 L577.8,468.96 L578.8,468.95 L579.8,468.94 L580.8,468.94 L581.8,468.93 L582.8,468.93 L583.8,468.92 L584.8,468.91 L585.8,468.91 L586.8,468.90 L587.8,468.90 L588.8,468.89 L589.8,468.89 L590.8,468.88 L591.8,468.88 L592.8,468.87 L593.8,468.87 L594.8,468.87 L595.8,468.86 L596.8,468.86 L597.8,468.85 L598.8,468.85 L599.8,468.85 L600.8,468.84 L601.8,468.84 L602.8,468.84 L603.8,468.83 L604.8,468.83 L605.8,468.83 L606.8,468.83 L607.8,468.82 L608.8,468.82 L609.8,468.82 L610.8,468.82 L611.8,468.81 L612.8,468.81 L613.8,468.81 L614.8,468.81 L615.8,468.81 L616.8,468.80 L617.8,468.80 L618.8,468.80 L619.8,468.80 L620.8,468.80 L621.8,468.80 L622.8,468.79 L623.8,468.79 L624.8,468.79 L625.8,468.79 L626.8,468.79 L627.8,468.79 L628.8,468.79 L629.8,468.79 L630.8,468.78 L631.8,468.78 L632.8,468.78 L633.8,468.78 L634.8,468.78 L635.8,468.78 L636.8,468.78 L637.8,468.78 L638.8,468.78 L639.8,468.78 L640.8,468.78 L641.8,468.78 L642.8,468.78 L643.8,468.78 L644.8,468.77 L645.8,468.77 L646.8,468.77 L647.8,468.77 L648.8,468.77 L649.8,468.77 L650.8,468.77 L651.8,468.77 L652.8,468.77 L653.8,468.77 L654.8,468.77 L655.8,468.77 L656.8,468.77 L657.8,468.77 L658.8,468.77 L659.8,468.77 L660.8,468.77 L661.8,468.77 L662.8,468.77 L663.8,468.77 L664.8,468.77 L665.8,468.77 L666.8,468.77 L667.8,468.77 L668.8,468.77 L669.8,468.77 L670.8,468.77 L671.8,468.77 L672.8,468.77 L673.8,468.77 L674.8,468.77 L675.8,468.77 L676.8,468.77 L677.8,468.77 L678.8,468.77 L679.8,468.77 L680.8,468.77 L681.8,468.77 L682.8,468.77 L683.8,468.77 L684.8,468.77 L685.8,468.77 L686.8,468.77 L687.8,468.77 L688.8,468.77 L689.8,468.77 L690.8,468.77 L691.8,468.77 L692.8,468.77 L693.8,468.77 L694.8,468.77 L695.8,468.77 L696.8,468.77 L697.8,468.77 L698.8,468.77 L699.8,468.77 L700.8,468.77 L701.8,468.77 L702.8,468.77 L703.8,468.77 L704.8,468.77 L705.8,468.77 L706.8,468.77 L707.8,468.77 L708.8,468.77 L709.8,468.77 L710.8,468.77 L711.8,468.77 L712.8,468.77 L713.8,468.77 L714.8,468.77 L715.8,468.77 L716.8,468.77 L717.8,468.77 L718.8,468.77 L719.8,468.77 L720.8,468.77 L721.8,468.77 L722.8,468.77 L723.8,468.77 L724.8,468.77 L725.8,468.77 L726.8,468.77 L727.8,468.77 L728.8,468.77 L729.8,468.77 L730.8,468.77 L731.8,468.77 L732.8,468.77 L733.8,468.77 L734.8,468.77 L735.8,468.77 L736.8,468.77 L737.8,468.77 L738.8,468.77 L739.8,468.77 L740.8,468.77 L741.8,468.77 L742.8,468.77 L743.8,468.77 L744.8,468.77 L745.8,468.77 L746.8,468.77 L747.8,468.77 L748.8,468.77 L749.8,468.77 L750.8,468.77 L751.8,468.77 L752.8,468.77 L753.8,468.77 L754.8,468.77" stroke="#0000ff" stroke-width="2.5" stroke-dasharray="3.8 2.2" fill="none"/>
<path d="M86.8,468.77 L87.8,468.77 L88.8,468.77 L89.8,468.77 L90.8,468.77 L91.8,468.77 L92.8,468.77 L93.8,468.77 L94.8,468.77 L95.8,468.77 L96.8,468.77 L97.8,468.77 L98.8,468.77 L99.8,468.77 L100.8,468.77 L101.8,468.77 L102.8,468.77 L103.8,468.77 L104.8,468.77 L105.8,468.77 L106.8,468.77 L107.8,468.77 L108.8,468.77 L109.8,468.77 L110.8,468.77 L111.8,468.77 L112.8,468.77 L113.8,468.77 L114.8,468.77 L115.8,468.77 L116.8,468.77 L117.8,468.77 L118.8,468.77 L119.8,468.77 L120.8,468.77 L121.8,468.77 L122.8,468.77 L123.8,468.77 L124.8,468.77 L125.8,468.77 L126.8,468.77 L127.8,468.77 L128.8,468.77 L129.8,468.77 L130.8,468.77 L131.8,468.77 L132.8,468.77 L133.8,468.77 L134.8,468.77 L135.8,468.77 L136.8,468.77 L137.8,468.77 L138.8,468.77 L139.8,468.77 L140.8,468.77 L141.8,468.77 L142.8,468.77 L143.8,468.77 L144.8,468.77 L145.8,468.77 L146.8,468.77 L147.8,468.77 L148.8,468.77 L149.8,468.77 L150.8,468.77 L151.8,468.77 L152.8,468.77 L153.8,468.77 L154.8,468.77 L155.8,468.77 L156.8,468.77 L157.8,468.77 L158.8,468.77 L159.8,468.77 L160.8,468.78 L161.8,468.78 L162.8,468.78 L163.8,468.78 L164.8,468.78 L165.8,468.78 L166.8,468.78 L167.8,468.79 L168.8,468.79 L169.8,468.79 L170.8,468.79 L171.8,468.80 L172.8,468.80 L173.8,468.81 L174.8,468.81 L175.8,468.82 L176.8,468.82 L177.8,468.83 L178.8,468.83 L179.8,468.84 L180.8,468.85 L181.8,468.86 L182.8,468.87 L183.8,468.88 L184.8,468.89 L185.8,468.90 L186.8,468.92 L187.8,468.93 L188.8,468.95 L189.8,468.97 L190.8,468.99 L191.8,469.01 L192.8,469.04 L193.8,469.06 L194.8,469.09 L195.8,469.12 L196.8,469.16 L197.8,469.20 L198.8,469.24 L199.8,469.28 L200.8,469.33 L201.8,469.38 L202.8,469.43 L203.8,469.49 L204.8,469.55 L205.8,469.62 L206.8,469.70 L207.8,469.77 L208.8,469.86 L209.8,469.95 L210.8,470.04 L211.8,470.15 L212.8,470.26 L213.8,470.37 L214.8,470.50 L215.8,470.63 L216.8,470.77 L217.8,470.92 L218.8,471.08 L219.8,471.25 L220.8,471.42 L221.8,471.61 L222.8,471.81 L223.8,472.01 L224.8,472.23 L225.8,472.46 L226.8,472.70 L227.8,472.95 L228.8,473.22 L229.8,473.49 L230.8,473.78 L231.8,474.08 L232.8,474.40 L233.8,474.72 L234.8,475.06 L235.8,475.41 L236.8,475.78 L237.8,476.16 L238.8,476.55 L239.8,476.95 L240.8,477.36 L241.8,477.79 L242.8,478.23 L243.8,478.69 L244.8,479.15 L245.8,479.63 L246.8,480.11 L247.8,480.61 L248.8,481.12 L249.8,481.64 L250.8,482.16 L251.8,482.70 L252.8,483.24 L253.8,483.79 L254.8,484.35 L255.8,484.91 L256.8,485.48 L257.8,486.05 L258.8,486.62 L259.8,487.20 L260.8,487.78 L261.8,488.36 L262.8,488.94 L263.8,489.51 L264.8,490.09 L265.8,490.66 L266.8,491.23 L267.8,491.80 L268.8,492.35 L269.8,492.90 L270.8,493.45 L271.8,493.98 L272.8,494.51 L273.8,495.02 L274.8,495.52 L275.8,496.01 L276.8,496.49 L277.8,496.95 L278.8,497.40 L279.8,497.84 L280.8,498.26 L281.8,498.66 L282.8,499.04 L283.8,499.41 L284.8,499.76 L285.8,500.09 L286.8,500.41 L287.8,500.70 L288.8,500.97 L289.8,501.23 L290.8,501.47 L291.8,501.68 L292.8,501.88 L293.8,502.06 L294.8,502.22 L295.8,502.36 L296.8,502.48 L297.8,502.58 L298.8,502.66 L299.8,502.72 L300.8,502.77 L301.8,502.79 L302.8,502.80 L303.8,502.79 L304.8,502.77 L305.8,502.73 L306.8,502.67 L307.8,502.59 L308.8,502.51 L309.8,502.40 L310.8,502.28 L311.8,502.15 L312.8,502.01 L313.8,501.85 L314.8,501.68 L315.8,501.50 L316.8,501.30 L317.8,501.10 L318.8,500.88 L319.8,500.66 L320.8,500.42 L321.8,500.17 L322.8,499.92 L323.8,499.66 L324.8,499.39 L325.8,499.11 L326.8,498.82 L327.8,498.53 L328.8,498.23 L329.8,497.92 L330.8,497.60 L331.8,497.28 L332.8,496.96 L333.8,496.63 L334.8,496.29 L335.8,495.95 L336.8,495.60 L337.8,495.25 L338.8,494.89 L339.8,494.54 L340.8,494.17 L341.8,493.80 L342.8,493.43 L343.8,493.06 L344.8,492.68 L345.8,492.30 L346.8,491.92 L347.8,491.53 L348.8,491.15 L349.8,490.76 L350.8,490.37 L351.8,489.98 L352.8,489.58 L353.8,489.19 L354.8,488.79 L355.8,488.40 L356.8,488.00 L357.8,487.60 L358.8,487.21 L359.8,486.81 L360.8,486.42 L361.8,486.03 L362.8,485.63 L363.8,485.24 L364.8,484.85 L365.8,484.47 L366.8,484.08 L367.8,483.70 L368.8,483.32 L369.8,482.95 L370.8,482.58 L371.8,482.21 L372.8,481.84 L373.8,481.48 L374.8,481.13 L375.8,480.78 L376.8,480.43 L377.8,480.09 L378.8,479.75 L379.8,479.42 L380.8,479.09 L381.8,478.77 L382.8,478.46 L383.8,478.15 L384.8,477.85 L385.8,477.55 L386.8,477.27 L387.8,476.98 L388.8,476.71 L389.8,476.44 L390.8,476.17 L391.8,475.92 L392.8,475.67 L393.8,475.43 L394.8,475.19 L395.8,474.96 L396.8,474.74 L397.8,474.52 L398.8,474.31 L399.8,474.11 L400.8,473.92 L401.8,473.73 L402.8,473.55 L403.8,473.37 L404.8,473.20 L405.8,473.04 L406.8,472.88 L407.8,472.73 L408.8,472.59 L409.8,472.45 L410.8,472.32 L411.8,472.19 L412.8,472.07 L413.8,471.95 L414.8,471.84 L415.8,471.74 L416.8,471.64 L417.8,471.54 L418.8,471.45 L419.8,471.36 L420.8,471.28 L421.8,471.20 L422.8,471.13 L423.8,471.06 L424.8,470.99 L425.8,470.93 L426.8,470.87 L427.8,470.82 L428.8,470.77 L429.8,470.72 L430.8,470.67 L431.8,470.63 L432.8,470.59 L433.8,470.56 L434.8,470.52 L435.8,470.49 L436.8,470.46 L437.8,470.43 L438.8,470.41 L439.8,470.38 L440.8,470.36 L441.8,470.34 L442.8,470.32 L443.8,470.30 L444.8,470.29 L445.8,470.27 L446.8,470.26 L447.8,470.25 L448.8,470.23 L449.8,470.22 L450.8,470.21 L451.8,470.21 L452.8,470.20 L453.8,470.19 L454.8,470.18 L455.8,470.18 L456.8,470.17 L457.8,470.17 L458.8,470.16 L459.8,470.16 L460.8,470.15 L461.8,470.15 L462.8,470.14 L463.8,470.14 L464.8,470.13 L465.8,470.13 L466.8,470.13 L467.8,470.12 L468.8,470.12 L469.8,470.11 L470.8,470.11 L471.8,470.11 L472.8,470.10 L473.8,470.10 L474.8,470.09 L475.8,470.09 L476.8,470.08 L477.8,470.08 L478.8,470.07 L479.8,470.07 L480.8,470.06 L481.8,470.05 L482.8,470.05 L483.8,470.04 L484.8,470.03 L485.8,470.03 L486.8,470.02 L487.8,470.01 L488.8,470.00 L489.8,469.99 L490.8,469.98 L491.8,469.97 L492.8,469.97 L493.8,469.96 L494.8,469.95 L495.8,469.94 L496.8,469.92 L497.8,469.91 L498.8,469.90 L499.8,469.89 L500.8,469.88 L501.8,469.87 L502.8,469.86 L503.8,469.84 L504.8,469.83 L505.8,469.82 L506.8,469.81 L507.8,469.79 L508.8,469.78 L509.8,469.77 L510.8,469.75 L511.8,469.74 L512.8,469.73 L513.8,469.71 L514.8,469.70 L515.8,469.69 L516.8,469.67 L517.8,469.66 L518.8,469.64 L519.8,469.63 L520.8,469.62 L521.8,469.60 L522.8,469.59 L523.8,469.57 L524.8,469.56 L525.8,469.54 L526.8,469.53 L527.8,469.52 L528.8,469.50 L529.8,469.49 L530.8,469.47 L531.8,469.46 L532.8,469.44 L533.8,469.43 L534.8,469.42 L535.8,469.40 L536.8,469.39 L537.8,469.37 L538.8,469.36 L539.8,469.35 L540.8,469.33 L541.8,469.32 L542.8,469.31 L543.8,469.30 L544.8,469.28 L545.8,469.27 L546.8,469.26 L547.8,469.24 L548.8,469.23 L549.8,469.22 L550.8,469.21 L551.8,469.20 L552.8,469.19 L553.8,469.17 L554.8,469.16 L555.8,469.15 L556.8,469.14 L557.8,469.13 L558.8,469.12 L559.8,469.11 L560.8,469.10 L561.8,469.09 L562.8,469.08 L563.8,469.07 L564.8,469.06 L565.8,469.05 L566.8,469.04 L567.8,469.03 L568.8,469.03 L569.8,469.02 L570.8,469.01 L571.8,469.00 L572.8,468.99 L573.8,468.99 L574.8,468.98 L575.8,468.97 L576.8,468.96 L577.8,468.96 L578.8,468.95 L579.8,468.94 L580.8,468.94 L581.8,468.93 L582.8,468.93 L583.8,468.92 L584.8,468.91 L585.8,468.91 L586.8,468.90 L587.8,468.90 L588.8,468.89 L589.8,468.89 L590.8,468.88 L591.8,468.88 L592.8,468.87 L593.8,468.87 L594.8,468.87 L595.8,468.86 L596.8,468.86 L597.8,468.85 L598.8,468.85 L599.8,468.85 L600.8,468.84 L601.8,468.84 L602.8,468.84 L603.8,468.83 L604.8,468.83 L605.8,468.83 L606.8,468.83 L607.8,468.82 L608.8,468.82 L609.8,468.82 L610.8,468.82 L611.8,468.81 L612.8,468.81 L613.8,468.81 L614.8,468.81 L615.8,468.81 L616.8,468.80 L617.8,468.80 L618.8,468.80 L619.8,468.80 L620.8,468.80 L621.8,468.80 L622.8,468.79 L623.8,468.79 L624.8,468.79 L625.8,468.79 L626.8,468.79 L627.8,468.79 L628.8,468.79 L629.8,468.79 L630.8,468.78 L631.8,468.78 L632.8,468.78 L633.8,468.78 L634.8,468.78 L635.8,468.78 L636.8,468.78 L637.8,468.78 L638.8,468.78 L639.8,468.78 L640.8,468.78 L641.8,468.78 L642.8,468.78 L643.8,468.78 L644.8,468.77 L645.8,468.77 L646.8,468.77 L647.8,468.77 L648.8,468.77 L649.8,468.77 L650.8,468.77 L651.8,468.77 L652.8,468.77 L653.8,468.77 L654.8,468.77 L655.8,468.77 L656.8,468.77 L657.8,468.77 L658.8,468.77 L659.8,468.77 L660.8,468.77 L661.8,468.77 L662.8,468.77 L663.8,468.77 L664.8,468.77 L665.8,468.77 L666.8,468.77 L667.8,468.77 L668.8,468.77 L669.8,468.77 L670.8,468.77 L671.8,468.77 L672.8,468.77 L673.8,468.77 L674.8,468.77 L675.8,468.77 L676.8,468.77 L677.8,468.77 L678.8,468.77 L679.8,468.77 L680.8,468.77 L681.8,468.77 L682.8,468.77 L683.8,468.77 L684.8,468.77 L685.8,468.77 L686.8,468.77 L687.8,468.77 L688.8,468.77 L689.8,468.77 L690.8,468.77 L691.8,468.77 L692.8,468.77 L693.8,468.77 L694.8,468.77 L695.8,468.77 L696.8,468.77 L697.8,468.77 L698.8,468.77 L699.8,468.77 L700.8,468.77 L701.8,468.77 L702.8,468.77 L703.8,468.77 L704.8,468.77 L705.8,468.77 L706.8,468.77 L707.8,468.77 L708.8,468.77 L709.8,468.77 L710.8,468.77 L711.8,468.77 L712.8,468.77 L713.8,468.77 L714.8,468.77 L715.8,468.77 L716.8,468.77 L717.8,468.77 L718.8,468.77 L719.8,468.77 L720.8,468.77 L721.8,468.77 L722.8,468.77 L723.8,468.77 L724.8,468.77 L725.8,468.77 L726.8,468.77 L727.8,468.77 L728.8,468.77 L729.8,468.77 L730.8,468.77 L731.8,468.77 L732.8,468.77 L733.8,468.77 L734.8,468.77 L735.8,468.77 L736.8,468.77 L737.8,468.77 L738.8,468.77 L739.8,468.77 L740.8,468.77 L741.8,468.77 L742.8,468.77 L743.8,468.77 L744.8,468.77 L745.8,468.77 L746.8,468.77 L747.8,468.77 L748.8,468.77 L749.8,468.77 L750.8,468.77 L751.8,468.77 L752.8,468.77 L753.8,468.77 L754.8,468.77" stroke="#0000ff" stroke-width="2.5" stroke-dasharray="2.5 3.5" fill="none"/>
<path d="M86.8,468.77 L87.8,468.77 L88.8,468.77 L89.8,468.77 L90.8,468.77 L91.8,468.77 L92.8,468.77 L93.8,468.77 L94.8,468.77 L95.8,468.77 L96.8,468.77 L97.8,468.77 L98.8,468.77 L99.8,468.77 L100.8,468.77 L101.8,468.77 L102.8,468.77 L103.8,468.77 L104.8,468.77 L105.8,468.77 L106.8,468.77 L107.8,468.77 L108.8,468.77 L109.8,468.77 L110.8,468.77 L111.8,468.77 L112.8,468.77 L113.8,468.77 L114.8,468.77 L115.8,468.77 L116.8,468.77 L117.8,468.77 L118.8,468.77 L119.8,468.77 L120.8,468.77 L121.8,468.77 L122.8,468.77 L123.8,468.77 L124.8,468.77 L125.8,468.77 L126.8,468.77 L127.8,468.77 L128.8,468.77 L129.8,468.77 L130.8,468.77 L131.8,468.77 L132.8,468.77 L133.8,468.77 L134.8,468.77 L135.8,468.77 L136.8,468.77 L137.8,468.77 L138.8,468.77 L139.8,468.77 L140.8,468.77 L141.8,468.77 L142.8,468.77 L143.8,468.77 L144.8,468.77 L145.8,468.77 L146.8,468.77 L147.8,468.77 L148.8,468.77 L149.8,468.77 L150.8,468.77 L151.8,468.77 L152.8,468.78 L153.8,468.78 L154.8,468.78 L155.8,468.78 L156.8,468.78 L157.8,468.78 L158.8,468.78 L159.8,468.79 L160.8,468.79 L161.8,468.79 L162.8,468.79 L163.8,468.80 L164.8,468.80 L165.8,468.81 L166.8,468.81 L167.8,468.82 L168.8,468.82 L169.8,468.83 L170.8,468.84 L171.8,468.84 L172.8,468.85 L173.8,468.86 L174.8,468.87 L175.8,468.89 L176.8,468.90 L177.8,468.92 L178.8,468.93 L179.8,468.95 L180.8,468.97 L181.8,468.99 L182.8,469.02 L183.8,469.04 L184.8,469.07 L185.8,469.11 L186.8,469.14 L187.8,469.18 L188.8,469.22 L189.8,469.27 L190.8,469.32 L191.8,469.38 L192.8,469.44 L193.8,469.50 L194.8,469.58 L195.8,469.65 L196.8,469.74 L197.8,469.83 L198.8,469.93 L199.8,470.04 L200.8,470.15 L201.8,470.28 L202.8,470.41 L203.8,470.56 L204.8,470.72 L205.8,470.89 L206.8,471.07 L207.8,471.26 L208.8,471.47 L209.8,471.69 L210.8,471.93 L211.8,472.19 L212.8,472.46 L213.8,472.75 L214.8,473.06 L215.8,473.39 L216.8,473.74 L217.8,474.10 L218.8,474.50 L219.8,474.91 L220.8,475.35 L221.8,475.81 L222.8,476.30 L223.8,476.81 L224.8,477.35 L225.8,477.92 L226.8,478.52 L227.8,479.14 L228.8,479.80 L229.8,480.48 L230.8,481.19 L231.8,481.94 L232.8,482.72 L233.8,483.52 L234.8,484.36 L235.8,485.24 L236.8,486.14 L237.8,487.07 L238.8,488.04 L239.8,489.04 L240.8,490.07 L241.8,491.13 L242.8,492.22 L243.8,493.35 L244.8,494.50 L245.8,495.67 L246.8,496.88 L247.8,498.11 L248.8,499.37 L249.8,500.65 L250.8,501.96 L251.8,503.28 L252.8,504.63 L253.8,505.99 L254.8,507.37 L255.8,508.76 L256.8,510.17 L257.8,511.58 L258.8,513.01 L259.8,514.44 L260.8,515.87 L261.8,517.31 L262.8,518.74 L263.8,520.17 L264.8,521.60 L265.8,523.02 L266.8,524.43 L267.8,525.83 L268.8,527.21 L269.8,528.57 L270.8,529.92 L271.8,531.24 L272.8,532.54 L273.8,533.82 L274.8,535.06 L275.8,536.28 L276.8,537.46 L277.8,538.61 L278.8,539.72 L279.8,540.80 L280.8,541.83 L281.8,542.83 L282.8,543.78 L283.8,544.69 L284.8,545.56 L285.8,546.38 L286.8,547.16 L287.8,547.88 L288.8,548.57 L289.8,549.20 L290.8,549.78 L291.8,550.32 L292.8,550.81 L293.8,551.25 L294.8,551.64 L295.8,551.98 L296.8,552.28 L297.8,552.53 L298.8,552.73 L299.8,552.88 L300.8,552.99 L301.8,553.06 L302.8,553.08 L303.8,553.06 L304.8,552.99 L305.8,552.89 L306.8,552.75 L307.8,552.56 L308.8,552.34 L309.8,552.08 L310.8,551.79 L311.8,551.46 L312.8,551.10 L313.8,550.71 L314.8,550.28 L315.8,549.83 L316.8,549.35 L317.8,548.84 L318.8,548.30 L319.8,547.74 L320.8,547.15 L321.8,546.54 L322.8,545.91 L323.8,545.25 L324.8,544.58 L325.8,543.89 L326.8,543.17 L327.8,542.44 L328.8,541.69 L329.8,540.93 L330.8,540.14 L331.8,539.35 L332.8,538.54 L333.8,537.71 L334.8,536.87 L335.8,536.02 L336.8,535.16 L337.8,534.28 L338.8,533.40 L339.8,532.50 L340.8,531.60 L341.8,530.68 L342.8,529.76 L343.8,528.82 L344.8,527.88 L345.8,526.93 L346.8,525.98 L347.8,525.02 L348.8,524.05 L349.8,523.08 L350.8,522.11 L351.8,521.13 L352.8,520.15 L353.8,519.16 L354.8,518.17 L355.8,517.18 L356.8,516.19 L357.8,515.20 L358.8,514.21 L359.8,513.23 L360.8,512.24 L361.8,511.25 L362.8,510.27 L363.8,509.30 L364.8,508.32 L365.8,507.35 L366.8,506.39 L367.8,505.43 L368.8,504.48 L369.8,503.54 L370.8,502.61 L371.8,501.68 L372.8,500.77 L373.8,499.86 L374.8,498.97 L375.8,498.08 L376.8,497.21 L377.8,496.35 L378.8,495.50 L379.8,494.66 L380.8,493.84 L381.8,493.03 L382.8,492.24 L383.8,491.46 L384.8,490.70 L385.8,489.95 L386.8,489.21 L387.8,488.50 L388.8,487.79 L389.8,487.11 L390.8,486.44 L391.8,485.79 L392.8,485.15 L393.8,484.53 L394.8,483.93 L395.8,483.34 L396.8,482.77 L397.8,482.22 L398.8,481.68 L399.8,481.16 L400.8,480.66 L401.8,480.17 L402.8,479.70 L403.8,479.24 L404.8,478.80 L405.8,478.38 L406.8,477.97 L407.8,477.58 L408.8,477.20 L409.8,476.84 L410.8,476.49 L411.8,476.15 L412.8,475.83 L413.8,475.52 L414.8,475.22 L415.8,474.94 L416.8,474.67 L417.8,474.41 L418.8,474.17 L419.8,473.93 L420.8,473.71 L421.8,473.50 L422.8,473.29 L423.8,473.10 L424.8,472.92 L425.8,472.74 L426.8,472.58 L427.8,472.42 L428.8,472.28 L429.8,472.14 L430.8,472.00 L431.8,471.88 L432.8,471.76 L433.8,471.65 L434.8,471.55 L435.8,471.45 L436.8,471.36 L437.8,471.27 L438.8,471.19 L439.8,471.12 L440.8,471.04 L441.8,470.98 L442.8,470.92 L443.8,470.86 L444.8,470.80 L445.8,470.75 L446.8,470.71 L447.8,470.66 L448.8,470.62 L449.8,470.58 L450.8,470.55 L451.8,470.51 L452.8,470.48 L453.8,470.45 L454.8,470.43 L455.8,470.40 L456.8,470.38 L457.8,470.36 L458.8,470.34 L459.8,470.32 L460.8,470.30 L461.8,470.29 L462.8,470.27 L463.8,470.26 L464.8,470.24 L465.8,470.23 L466.8,470.22 L467.8,470.21 L468.8,470.20 L469.8,470.19 L470.8,470.18 L471.8,470.17 L472.8,470.16 L473.8,470.15 L474.8,470.14 L475.8,470.13 L476.8,470.12 L477.8,470.11 L478.8,470.10 L479.8,470.09 L480.8,470.09 L481.8,470.08 L482.8,470.07 L483.8,470.06 L484.8,470.05 L485.8,470.04 L486.8,470.03 L487.8,470.02 L488.8,470.01 L489.8,470.00 L490.8,469.99 L491.8,469.98 L492.8,469.97 L493.8,469.96 L494.8,469.95 L495.8,469.94 L496.8,469.93 L497.8,469.92 L498.8,469.91 L499.8,469.90 L500.8,469.88 L501.8,469.87 L502.8,469.86 L503.8,469.85 L504.8,469.83 L505.8,469.82 L506.8,469.81 L507.8,469.80 L508.8,469.78 L509.8,469.77 L510.8,469.76 L511.8,469.74 L512.8,469.73 L513.8,469.71 L514.8,469.70 L515.8,469.69 L516.8,469.67 L517.8,469.66 L518.8,469.64 L519.8,469.63 L520.8,469.62 L521.8,469.60 L522.8,469.59 L523.8,469.57 L524.8,469.56 L525.8,469.54 L526.8,469.53 L527.8,469.52 L528.8,469.50 L529.8,469.49 L530.8,469.47 L531.8,469.46 L532.8,469.44 L533.8,469.43 L534.8,469.42 L535.8,469.40 L536.8,469.39 L537.8,469.37 L538.8,469.36 L539.8,469.35 L540.8,469.33 L541.8,469.32 L542.8,469.31 L543.8,469.30 L544.8,469.28 L545.8,469.27 L546.8,469.26 L547.8,469.24 L548.8,469.23 L549.8,469.22 L550.8,469.21 L551.8,469.20 L552.8,469.19 L553.8,469.17 L554.8,469.16 L555.8,469.15 L556.8,469.14 L557.8,469.13 L558.8,469.12 L559.8,469.11 L560.8,469.10 L561.8,469.09 L562.8,469.08 L563.8,469.07 L564.8,469.06 L565.8,469.05 L566.8,469.04 L567.8,469.03 L568.8,469.03 L569.8,469.02 L570.8,469.01 L571.8,469.00 L572.8,468.99 L573.8,468.99 L574.8,468.98 L575.8,468.97 L576.8,468.96 L577.8,468.96 L578.8,468.95 L579.8,468.94 L580.8,468.94 L581.8,468.93 L582.8,468.93 L583.8,468.92 L584.8,468.91 L585.8,468.91 L586.8,468.90 L587.8,468.90 L588.8,468.89 L589.8,468.89 L590.8,468.88 L591.8,468.88 L592.8,468.87 L593.8,468.87 L594.8,468.87 L595.8,468.86 L596.8,468.86 L597.8,468.85 L598.8,468.85 L599.8,468.85 L600.8,468.84 L601.8,468.84 L602.8,468.84 L603.8,468.83 L604.8,468.83 L605.8,468.83 L606.8,468.83 L607.8,468.82 L608.8,468.82 L609.8,468.82 L610.8,468.82 L611.8,468.81 L612.8,468.81 L613.8,468.81 L614.8,468.81 L615.8,468.81 L616.8,468.80 L617.8,468.80 L618.8,468.80 L619.8,468.80 L620.8,468.80 L621.8,468.80 L622.8,468.79 L623.8,468.79 L624.8,468.79 L625.8,468.79 L626.8,468.79 L627.8,468.79 L628.8,468.79 L629.8,468.79 L630.8,468.78 L631.8,468.78 L632.8,468.78 L633.8,468.78 L634.8,468.78 L635.8,468.78 L636.8,468.78 L637.8,468.78 L638.8,468.78 L639.8,468.78 L640.8,468.78 L641.8,468.78 L642.8,468.78 L643.8,468.78 L644.8,468.77 L645.8,468.77 L646.8,468.77 L647.8,468.77 L648.8,468.77 L649.8,468.77 L650.8,468.77 L651.8,468.77 L652.8,468.77 L653.8,468.77 L654.8,468.77 L655.8,468.77 L656.8,468.77 L657.8,468.77 L658.8,468.77 L659.8,468.77 L660.8,468.77 L661.8,468.77 L662.8,468.77 L663.8,468.77 L664.8,468.77 L665.8,468.77 L666.8,468.77 L667.8,468.77 L668.8,468.77 L669.8,468.77 L670.8,468.77 L671.8,468.77 L672.8,468.77 L673.8,468.77 L674.8,468.77 L675.8,468.77 L676.8,468.77 L677.8,468.77 L678.8,468.77 L679.8,468.77 L680.8,468.77 L681.8,468.77 L682.8,468.77 L683.8,468.77 L684.8,468.77 L685.8,468.77 L686.8,468.77 L687.8,468.77 L688.8,468.77 L689.8,468.77 L690.8,468.77 L691.8,468.77 L692.8,468.77 L693.8,468.77 L694.8,468.77 L695.8,468.77 L696.8,468.77 L697.8,468.77 L698.8,468.77 L699.8,468.77 L700.8,468.77 L701.8,468.77 L702.8,468.77 L703.8,468.77 L704.8,468.77 L705.8,468.77 L706.8,468.77 L707.8,468.77 L708.8,468.77 L709.8,468.77 L710.8,468.77 L711.8,468.77 L712.8,468.77 L713.8,468.77 L714.8,468.77 L715.8,468.77 L716.8,468.77 L717.8,468.77 L718.8,468.77 L719.8,468.77 L720.8,468.77 L721.8,468.77 L722.8,468.77 L723.8,468.77 L724.8,468.77 L725.8,468.77 L726.8,468.77 L727.8,468.77 L728.8,468.77 L729.8,468.77 L730.8,468.77 L731.8,468.77 L732.8,468.77 L733.8,468.77 L734.8,468.77 L735.8,468.77 L736.8,468.77 L737.8,468.77 L738.8,468.77 L739.8,468.77 L740.8,468.77 L741.8,468.77 L742.8,468.77 L743.8,468.77 L744.8,468.77 L745.8,468.77 L746.8,468.77 L747.8,468.77 L748.8,468.77 L749.8,468.77 L750.8,468.77 L751.8,468.77 L752.8,468.77 L753.8,468.77 L754.8,468.77" stroke="#0000ff" stroke-width="2.5" stroke-dasharray="2.5 3.5" fill="none"/>
<path d="M86.8,468.77 L87.8,468.77 L88.8,468.77 L89.8,468.77 L90.8,468.77 L91.8,468.77 L92.8,468.77 L93.8,468.77 L94.8,468.77 L95.8,468.77 L96.8,468.77 L97.8,468.77 L98.8,468.77 L99.8,468.77 L100.8,468.77 L101.8,468.77 L102.8,468.77 L103.8,468.77 L104.8,468.77 L105.8,468.77 L106.8,468.77 L107.8,468.77 L108.8,468.77 L109.8,468.77 L110.8,468.77 L111.8,468.77 L112.8,468.77 L113.8,468.77 L114.8,468.77 L115.8,468.77 L116.8,468.77 L117.8,468.77 L118.8,468.77 L119.8,468.77 L120.8,468.77 L121.8,468.77 L122.8,468.77 L123.8,468.77 L124.8,468.77 L125.8,468.77 L126.8,468.77 L127.8,468.77 L128.8,468.77 L129.8,468.77 L130.8,468.77 L131.8,468.77 L132.8,468.77 L133.8,468.77 L134.8,468.77 L135.8,468.77 L136.8,468.77 L137.8,468.77 L138.8,468.77 L139.8,468.78 L140.8,468.78 L141.8,468.78 L142.8,468.78 L143.8,468.78 L144.8,468.78 L145.8,468.79 L146.8,468.79 L147.8,468.79 L148.8,468.79 L149.8,468.80 L150.8,468.80 L151.8,468.81 L152.8,468.81 L153.8,468.82 L154.8,468.82 L155.8,468.83 L156.8,468.83 L157.8,468.84 L158.8,468.85 L159.8,468.86 L160.8,468.87 L161.8,468.88 L162.8,468.90 L163.8,468.91 L164.8,468.93 L165.8,468.95 L166.8,468.96 L167.8,468.99 L168.8,469.01 L169.8,469.04 L170.8,469.06 L171.8,469.09 L172.8,469.13 L173.8,469.17 L174.8,469.21 L175.8,469.25 L176.8,469.30 L177.8,469.35 L178.8,469.41 L179.8,469.47 L180.8,469.54 L181.8,469.62 L182.8,469.70 L183.8,469.79 L184.8,469.88 L185.8,469.98 L186.8,470.10 L187.8,470.22 L188.8,470.35 L189.8,470.49 L190.8,470.64 L191.8,470.81 L192.8,470.98 L193.8,471.17 L194.8,471.38 L195.8,471.60 L196.8,471.83 L197.8,472.09 L198.8,472.36 L199.8,472.65 L200.8,472.96 L201.8,473.29 L202.8,473.65 L203.8,474.02 L204.8,474.43 L205.8,474.86 L206.8,475.31 L207.8,475.80 L208.8,476.31 L209.8,476.86 L210.8,477.44 L211.8,478.06 L212.8,478.71 L213.8,479.39 L214.8,480.12 L215.8,480.89 L216.8,481.69 L217.8,482.55 L218.8,483.44 L219.8,484.38 L220.8,485.37 L221.8,486.41 L222.8,487.50 L223.8,488.64 L224.8,489.84 L225.8,491.09 L226.8,492.39 L227.8,493.75 L228.8,495.17 L229.8,496.65 L230.8,498.19 L231.8,499.78 L232.8,501.44 L233.8,503.17 L234.8,504.95 L235.8,506.80 L236.8,508.71 L237.8,510.68 L238.8,512.72 L239.8,514.82 L240.8,516.99 L241.8,519.21 L242.8,521.50 L243.8,523.85 L244.8,526.26 L245.8,528.73 L246.8,531.26 L247.8,533.84 L248.8,536.48 L249.8,539.17 L250.8,541.91 L251.8,544.70 L252.8,547.53 L253.8,550.41 L254.8,553.32 L255.8,556.27 L256.8,559.26 L257.8,562.28 L258.8,565.32 L259.8,568.38 L260.8,571.47 L261.8,574.56 L262.8,577.67 L263.8,580.78 L264.8,583.90 L265.8,587.01 L266.8,590.11 L267.8,593.20 L268.8,596.27 L269.8,599.32 L270.8,602.34 L271.8,605.32 L272.8,608.27 L273.8,611.18 L274.8,614.04 L275.8,616.84 L276.8,619.59 L277.8,622.27 L278.8,624.89 L279.8,627.44 L280.8,629.91 L281.8,632.31 L282.8,634.61 L283.8,636.83 L284.8,638.96 L285.8,641.00 L286.8,642.94 L287.8,644.78 L288.8,646.51 L289.8,648.14 L290.8,649.66 L291.8,651.07 L292.8,652.38 L293.8,653.57 L294.8,654.65 L295.8,655.62 L296.8,656.47 L297.8,657.21 L298.8,657.85 L299.8,658.37 L300.8,658.78 L301.8,659.08 L302.8,659.27 L303.8,659.36 L304.8,659.35 L305.8,659.24 L306.8,659.03 L307.8,658.73 L308.8,658.34 L309.8,657.86 L310.8,657.29 L311.8,656.65 L312.8,655.93 L313.8,655.13 L314.8,654.27 L315.8,653.33 L316.8,652.34 L317.8,651.29 L318.8,650.19 L319.8,649.03 L320.8,647.83 L321.8,646.59 L322.8,645.30 L323.8,643.98 L324.8,642.62 L325.8,641.24 L326.8,639.82 L327.8,638.38 L328.8,636.92 L329.8,635.43 L330.8,633.93 L331.8,632.40 L332.8,630.86 L333.8,629.31 L334.8,627.73 L335.8,626.15 L336.8,624.55 L337.8,622.94 L338.8,621.31 L339.8,619.67 L340.8,618.01 L341.8,616.34 L342.8,614.65 L343.8,612.95 L344.8,611.23 L345.8,609.49 L346.8,607.73 L347.8,605.95 L348.8,604.15 L349.8,602.32 L350.8,600.47 L351.8,598.60 L352.8,596.70 L353.8,594.78 L354.8,592.82 L355.8,590.84 L356.8,588.83 L357.8,586.80 L358.8,584.73 L359.8,582.64 L360.8,580.51 L361.8,578.36 L362.8,576.18 L363.8,573.98 L364.8,571.75 L365.8,569.50 L366.8,567.23 L367.8,564.93 L368.8,562.62 L369.8,560.29 L370.8,557.95 L371.8,555.59 L372.8,553.23 L373.8,550.86 L374.8,548.49 L375.8,546.12 L376.8,543.75 L377.8,541.38 L378.8,539.03 L379.8,536.68 L380.8,534.36 L381.8,532.05 L382.8,529.76 L383.8,527.49 L384.8,525.26 L385.8,523.05 L386.8,520.87 L387.8,518.74 L388.8,516.64 L389.8,514.58 L390.8,512.56 L391.8,510.59 L392.8,508.66 L393.8,506.79 L394.8,504.96 L395.8,503.19 L396.8,501.47 L397.8,499.80 L398.8,498.18 L399.8,496.62 L400.8,495.12 L401.8,493.67 L402.8,492.28 L403.8,490.94 L404.8,489.66 L405.8,488.44 L406.8,487.26 L407.8,486.15 L408.8,485.08 L409.8,484.07 L410.8,483.11 L411.8,482.19 L412.8,481.33 L413.8,480.51 L414.8,479.74 L415.8,479.02 L416.8,478.33 L417.8,477.69 L418.8,477.09 L419.8,476.53 L420.8,476.00 L421.8,475.51 L422.8,475.05 L423.8,474.62 L424.8,474.22 L425.8,473.86 L426.8,473.52 L427.8,473.20 L428.8,472.91 L429.8,472.64 L430.8,472.40 L431.8,472.17 L432.8,471.96 L433.8,471.77 L434.8,471.60 L435.8,471.44 L436.8,471.30 L437.8,471.17 L438.8,471.05 L439.8,470.94 L440.8,470.85 L441.8,470.76 L442.8,470.68 L443.8,470.61 L444.8,470.55 L445.8,470.49 L446.8,470.44 L447.8,470.40 L448.8,470.36 L449.8,470.32 L450.8,470.29 L451.8,470.27 L452.8,470.24 L453.8,470.22 L454.8,470.20 L455.8,470.19 L456.8,470.17 L457.8,470.16 L458.8,470.15 L459.8,470.14 L460.8,470.13 L461.8,470.13 L462.8,470.12 L463.8,470.12 L464.8,470.11 L465.8,470.11 L466.8,470.10 L467.8,470.10 L468.8,470.09 L469.8,470.09 L470.8,470.09 L471.8,470.08 L472.8,470.08 L473.8,470.08 L474.8,470.07 L475.8,470.07 L476.8,470.07 L477.8,470.06 L478.8,470.06 L479.8,470.05 L480.8,470.05 L481.8,470.04 L482.8,470.04 L483.8,470.03 L484.8,470.02 L485.8,470.02 L486.8,470.01 L487.8,470.00 L488.8,469.99 L489.8,469.99 L490.8,469.98 L491.8,469.97 L492.8,469.96 L493.8,469.95 L494.8,469.94 L495.8,469.93 L496.8,469.92 L497.8,469.91 L498.8,469.90 L499.8,469.89 L500.8,469.88 L501.8,469.87 L502.8,469.85 L503.8,469.84 L504.8,469.83 L505.8,469.82 L506.8,469.81 L507.8,469.79 L508.8,469.78 L509.8,469.77 L510.8,469.75 L511.8,469.74 L512.8,469.73 L513.8,469.71 L514.8,469.70 L515.8,469.69 L516.8,469.67 L517.8,469.66 L518.8,469.64 L519.8,469.63 L520.8,469.62 L521.8,469.60 L522.8,469.59 L523.8,469.57 L524.8,469.56 L525.8,469.54 L526.8,469.53 L527.8,469.52 L528.8,469.50 L529.8,469.49 L530.8,469.47 L531.8,469.46 L532.8,469.44 L533.8,469.43 L534.8,469.42 L535.8,469.40 L536.8,469.39 L537.8,469.37 L538.8,469.36 L539.8,469.35 L540.8,469.33 L541.8,469.32 L542.8,469.31 L543.8,469.30 L544.8,469.28 L545.8,469.27 L546.8,469.26 L547.8,469.24 L548.8,469.23 L549.8,469.22 L550.8,469.21 L551.8,469.20 L552.8,469.19 L553.8,469.17 L554.8,469.16 L555.8,469.15 L556.8,469.14 L557.8,469.13 L558.8,469.12 L559.8,469.11 L560.8,469.10 L561.8,469.09 L562.8,469.08 L563.8,469.07 L564.8,469.06 L565.8,469.05 L566.8,469.04 L567.8,469.03 L568.8,469.03 L569.8,469.02 L570.8,469.01 L571.8,469.00 L572.8,468.99 L573.8,468.99 L574.8,468.98 L575.8,468.97 L576.8,468.96 L577.8,468.96 L578.8,468.95 L579.8,468.94 L580.8,468.94 L581.8,468.93 L582.8,468.93 L583.8,468.92 L584.8,468.91 L585.8,468.91 L586.8,468.90 L587.8,468.90 L588.8,468.89 L589.8,468.89 L590.8,468.88 L591.8,468.88 L592.8,468.87 L593.8,468.87 L594.8,468.87 L595.8,468.86 L596.8,468.86 L597.8,468.85 L598.8,468.85 L599.8,468.85 L600.8,468.84 L601.8,468.84 L602.8,468.84 L603.8,468.83 L604.8,468.83 L605.8,468.83 L606.8,468.83 L607.8,468.82 L608.8,468.82 L609.8,468.82 L610.8,468.82 L611.8,468.81 L612.8,468.81 L613.8,468.81 L614.8,468.81 L615.8,468.81 L616.8,468.80 L617.8,468.80 L618.8,468.80 L619.8,468.80 L620.8,468.80 L621.8,468.80 L622.8,468.79 L623.8,468.79 L624.8,468.79 L625.8,468.79 L626.8,468.79 L627.8,468.79 L628.8,468.79 L629.8,468.79 L630.8,468.78 L631.8,468.78 L632.8,468.78 L633.8,468.78 L634.8,468.78 L635.8,468.78 L636.8,468.78 L637.8,468.78 L638.8,468.78 L639.8,468.78 L640.8,468.78 L641.8,468.78 L642.8,468.78 L643.8,468.78 L644.8,468.77 L645.8,468.77 L646.8,468.77 L647.8,468.77 L648.8,468.77 L649.8,468.77 L650.8,468.77 L651.8,468.77 L652.8,468.77 L653.8,468.77 L654.8,468.77 L655.8,468.77 L656.8,468.77 L657.8,468.77 L658.8,468.77 L659.8,468.77 L660.8,468.77 L661.8,468.77 L662.8,468.77 L663.8,468.77 L664.8,468.77 L665.8,468.77 L666.8,468.77 L667.8,468.77 L668.8,468.77 L669.8,468.77 L670.8,468.77 L671.8,468.77 L672.8,468.77 L673.8,468.77 L674.8,468.77 L675.8,468.77 L676.8,468.77 L677.8,468.77 L678.8,468.77 L679.8,468.77 L680.8,468.77 L681.8,468.77 L682.8,468.77 L683.8,468.77 L684.8,468.77 L685.8,468.77 L686.8,468.77 L687.8,468.77 L688.8,468.77 L689.8,468.77 L690.8,468.77 L691.8,468.77 L692.8,468.77 L693.8,468.77 L694.8,468.77 L695.8,468.77 L696.8,468.77 L697.8,468.77 L698.8,468.77 L699.8,468.77 L700.8,468.77 L701.8,468.77 L702.8,468.77 L703.8,468.77 L704.8,468.77 L705.8,468.77 L706.8,468.77 L707.8,468.77 L708.8,468.77 L709.8,468.77 L710.8,468.77 L711.8,468.77 L712.8,468.77 L713.8,468.77 L714.8,468.77 L715.8,468.77 L716.8,468.77 L717.8,468.77 L718.8,468.77 L719.8,468.77 L720.8,468.77 L721.8,468.77 L722.8,468.77 L723.8,468.77 L724.8,468.77 L725.8,468.77 L726.8,468.77 L727.8,468.77 L728.8,468.77 L729.8,468.77 L730.8,468.77 L731.8,468.77 L732.8,468.77 L733.8,468.77 L734.8,468.77 L735.8,468.77 L736.8,468.77 L737.8,468.77 L738.8,468.77 L739.8,468.77 L740.8,468.77 L741.8,468.77 L742.8,468.77 L743.8,468.77 L744.8,468.77 L745.8,468.77 L746.8,468.77 L747.8,468.77 L748.8,468.77 L749.8,468.77 L750.8,468.77 L751.8,468.77 L752.8,468.77 L753.8,468.77 L754.8,468.77" stroke="#0000ff" stroke-width="2.5" stroke-dasharray="2.5 3.5" fill="none"/>
<path d="M86.8,468.77 L87.8,468.77 L88.8,468.77 L89.8,468.77 L90.8,468.77 L91.8,468.77 L92.8,468.77 L93.8,468.77 L94.8,468.77 L95.8,468.77 L96.8,468.77 L97.8,468.77 L98.8,468.77 L99.8,468.77 L100.8,468.77 L101.8,468.77 L102.8,468.77 L103.8,468.77 L104.8,468.77 L105.8,468.77 L106.8,468.77 L107.8,468.77 L108.8,468.77 L109.8,468.77 L110.8,468.77 L111.8,468.77 L112.8,468.77 L113.8,468.77 L114.8,468.77 L115.8,468.77 L116.8,468.77 L117.8,468.77 L118.8,468.77 L119.8,468.77 L120.8,468.77 L121.8,468.77 L122.8,468.77 L123.8,468.77 L124.8,468.77 L125.8,468.77 L126.8,468.77 L127.8,468.77 L128.8,468.77 L129.8,468.77 L130.8,468.77 L131.8,468.77 L132.8,468.77 L133.8,468.77 L134.8,468.77 L135.8,468.77 L136.8,468.77 L137.8,468.77 L138.8,468.77 L139.8,468.77 L140.8,468.77 L141.8,468.77 L142.8,468.77 L143.8,468.77 L144.8,468.77 L145.8,468.77 L146.8,468.77 L147.8,468.77 L148.8,468.77 L149.8,468.77 L150.8,468.77 L151.8,468.77 L152.8,468.77 L153.8,468.78 L154.8,468.78 L155.8,468.78 L156.8,468.78 L157.8,468.78 L158.8,468.78 L159.8,468.78 L160.8,468.79 L161.8,468.79 L162.8,468.79 L163.8,468.80 L164.8,468.80 L165.8,468.80 L166.8,468.81 L167.8,468.81 L168.8,468.82 L169.8,468.82 L170.8,468.83 L171.8,468.84 L172.8,468.85 L173.8,468.85 L174.8,468.86 L175.8,468.88 L176.8,468.89 L177.8,468.90 L178.8,468.92 L179.8,468.93 L180.8,468.95 L181.8,468.97 L182.8,469.00 L183.8,469.02 L184.8,469.05 L185.8,469.08 L186.8,469.11 L187.8,469.14 L188.8,469.18 L189.8,469.23 L190.8,469.27 L191.8,469.32 L192.8,469.38 L193.8,469.44 L194.8,469.50 L195.8,469.58 L196.8,469.65 L197.8,469.74 L198.8,469.83 L199.8,469.93 L200.8,470.03 L201.8,470.15 L202.8,470.27 L203.8,470.40 L204.8,470.55 L205.8,470.70 L206.8,470.87 L207.8,471.04 L208.8,471.23 L209.8,471.44 L210.8,471.65 L211.8,471.89 L212.8,472.13 L213.8,472.40 L214.8,472.68 L215.8,472.98 L216.8,473.30 L217.8,473.63 L218.8,473.99 L219.8,474.37 L220.8,474.77 L221.8,475.19 L222.8,475.64 L223.8,476.10 L224.8,476.60 L225.8,477.11 L226.8,477.66 L227.8,478.23 L228.8,478.82 L229.8,479.45 L230.8,480.10 L231.8,480.78 L232.8,481.49 L233.8,482.22 L234.8,482.99 L235.8,483.78 L236.8,484.61 L237.8,485.46 L238.8,486.34 L239.8,487.25 L240.8,488.19 L241.8,489.16 L242.8,490.16 L243.8,491.18 L244.8,492.23 L245.8,493.30 L246.8,494.40 L247.8,495.53 L248.8,496.68 L249.8,497.84 L250.8,499.03 L251.8,500.24 L252.8,501.47 L253.8,502.71 L254.8,503.97 L255.8,505.24 L256.8,506.52 L257.8,507.81 L258.8,509.11 L259.8,510.41 L260.8,511.72 L261.8,513.03 L262.8,514.34 L263.8,515.65 L264.8,516.95 L265.8,518.24 L266.8,519.53 L267.8,520.80 L268.8,522.06 L269.8,523.30 L270.8,524.53 L271.8,525.74 L272.8,526.92 L273.8,528.09 L274.8,529.22 L275.8,530.33 L276.8,531.41 L277.8,532.46 L278.8,533.47 L279.8,534.45 L280.8,535.40 L281.8,536.30 L282.8,537.17 L283.8,538.00 L284.8,538.79 L285.8,539.54 L286.8,540.25 L287.8,540.91 L288.8,541.54 L289.8,542.11 L290.8,542.65 L291.8,543.14 L292.8,543.58 L293.8,543.98 L294.8,544.34 L295.8,544.65 L296.8,544.92 L297.8,545.15 L298.8,545.33 L299.8,545.47 L300.8,545.57 L301.8,545.63 L302.8,545.65 L303.8,545.63 L304.8,545.58 L305.8,545.48 L306.8,545.35 L307.8,545.18 L308.8,544.98 L309.8,544.74 L310.8,544.48 L311.8,544.18 L312.8,543.85 L313.8,543.49 L314.8,543.10 L315.8,542.69 L316.8,542.25 L317.8,541.78 L318.8,541.30 L319.8,540.78 L320.8,540.25 L321.8,539.69 L322.8,539.12 L323.8,538.52 L324.8,537.90 L325.8,537.27 L326.8,536.62 L327.8,535.95 L328.8,535.27 L329.8,534.57 L330.8,533.86 L331.8,533.13 L332.8,532.40 L333.8,531.64 L334.8,530.88 L335.8,530.10 L336.8,529.32 L337.8,528.52 L338.8,527.71 L339.8,526.89 L340.8,526.07 L341.8,525.23 L342.8,524.39 L343.8,523.54 L344.8,522.68 L345.8,521.82 L346.8,520.95 L347.8,520.07 L348.8,519.19 L349.8,518.31 L350.8,517.42 L351.8,516.53 L352.8,515.63 L353.8,514.73 L354.8,513.83 L355.8,512.93 L356.8,512.03 L357.8,511.13 L358.8,510.23 L359.8,509.32 L360.8,508.43 L361.8,507.53 L362.8,506.63 L363.8,505.74 L364.8,504.86 L365.8,503.97 L366.8,503.10 L367.8,502.22 L368.8,501.36 L369.8,500.50 L370.8,499.65 L371.8,498.81 L372.8,497.97 L373.8,497.15 L374.8,496.33 L375.8,495.52 L376.8,494.73 L377.8,493.95 L378.8,493.17 L379.8,492.41 L380.8,491.66 L381.8,490.93 L382.8,490.20 L383.8,489.50 L384.8,488.80 L385.8,488.12 L386.8,487.45 L387.8,486.80 L388.8,486.16 L389.8,485.53 L390.8,484.92 L391.8,484.33 L392.8,483.75 L393.8,483.19 L394.8,482.64 L395.8,482.10 L396.8,481.58 L397.8,481.08 L398.8,480.59 L399.8,480.12 L400.8,479.66 L401.8,479.22 L402.8,478.79 L403.8,478.38 L404.8,477.98 L405.8,477.59 L406.8,477.22 L407.8,476.86 L408.8,476.52 L409.8,476.19 L410.8,475.87 L411.8,475.57 L412.8,475.27 L413.8,474.99 L414.8,474.72 L415.8,474.47 L416.8,474.22 L417.8,473.99 L418.8,473.77 L419.8,473.55 L420.8,473.35 L421.8,473.16 L422.8,472.97 L423.8,472.80 L424.8,472.63 L425.8,472.48 L426.8,472.33 L427.8,472.19 L428.8,472.05 L429.8,471.93 L430.8,471.81 L431.8,471.70 L432.8,471.59 L433.8,471.49 L434.8,471.40 L435.8,471.31 L436.8,471.23 L437.8,471.15 L438.8,471.08 L439.8,471.01 L440.8,470.94 L441.8,470.88 L442.8,470.83 L443.8,470.78 L444.8,470.73 L445.8,470.68 L446.8,470.64 L447.8,470.60 L448.8,470.56 L449.8,470.53 L450.8,470.50 L451.8,470.47 L452.8,470.44 L453.8,470.42 L454.8,470.39 L455.8,470.37 L456.8,470.35 L457.8,470.33 L458.8,470.31 L459.8,470.30 L460.8,470.28 L461.8,470.27 L462.8,470.25 L463.8,470.24 L464.8,470.23 L465.8,470.22 L466.8,470.20 L467.8,470.19 L468.8,470.18 L469.8,470.18 L470.8,470.17 L471.8,470.16 L472.8,470.15 L473.8,470.14 L474.8,470.13 L475.8,470.12 L476.8,470.11 L477.8,470.11 L478.8,470.10 L479.8,470.09 L480.8,470.08 L481.8,470.07 L482.8,470.07 L483.8,470.06 L484.8,470.05 L485.8,470.04 L486.8,470.03 L487.8,470.02 L488.8,470.01 L489.8,470.00 L490.8,469.99 L491.8,469.98 L492.8,469.97 L493.8,469.96 L494.8,469.95 L495.8,469.94 L496.8,469.93 L497.8,469.92 L498.8,469.91 L499.8,469.90 L500.8,469.88 L501.8,469.87 L502.8,469.86 L503.8,469.85 L504.8,469.83 L505.8,469.82 L506.8,469.81 L507.8,469.80 L508.8,469.78 L509.8,469.77 L510.8,469.76 L511.8,469.74 L512.8,469.73 L513.8,469.71 L514.8,469.70 L515.8,469.69 L516.8,469.67 L517.8,469.66 L518.8,469.64 L519.8,469.63 L520.8,469.62 L521.8,469.60 L522.8,469.59 L523.8,469.57 L524.8,469.56 L525.8,469.54 L526.8,469.53 L527.8,469.52 L528.8,469.50 L529.8,469.49 L530.8,469.47 L531.8,469.46 L532.8,469.44 L533.8,469.43 L534.8,469.42 L535.8,469.40 L536.8,469.39 L537.8,469.37 L538.8,469.36 L539.8,469.35 L540.8,469.33 L541.8,469.32 L542.8,469.31 L543.8,469.30 L544.8,469.28 L545.8,469.27 L546.8,469.26 L547.8,469.24 L548.8,469.23 L549.8,469.22 L550.8,469.21 L551.8,469.20 L552.8,469.19 L553.8,469.17 L554.8,469.16 L555.8,469.15 L556.8,469.14 L557.8,469.13 L558.8,469.12 L559.8,469.11 L560.8,469.10 L561.8,469.09 L562.8,469.08 L563.8,469.07 L564.8,469.06 L565.8,469.05 L566.8,469.04 L567.8,469.03 L568.8,469.03 L569.8,469.02 L570.8,469.01 L571.8,469.00 L572.8,468.99 L573.8,468.99 L574.8,468.98 L575.8,468.97 L576.8,468.96 L577.8,468.96 L578.8,468.95 L579.8,468.94 L580.8,468.94 L581.8,468.93 L582.8,468.93 L583.8,468.92 L584.8,468.91 L585.8,468.91 L586.8,468.90 L587.8,468.90 L588.8,468.89 L589.8,468.89 L590.8,468.88 L591.8,468.88 L592.8,468.87 L593.8,468.87 L594.8,468.87 L595.8,468.86 L596.8,468.86 L597.8,468.85 L598.8,468.85 L599.8,468.85 L600.8,468.84 L601.8,468.84 L602.8,468.84 L603.8,468.83 L604.8,468.83 L605.8,468.83 L606.8,468.83 L607.8,468.82 L608.8,468.82 L609.8,468.82 L610.8,468.82 L611.8,468.81 L612.8,468.81 L613.8,468.81 L614.8,468.81 L615.8,468.81 L616.8,468.80 L617.8,468.80 L618.8,468.80 L619.8,468.80 L620.8,468.80 L621.8,468.80 L622.8,468.79 L623.8,468.79 L624.8,468.79 L625.8,468.79 L626.8,468.79 L627.8,468.79 L628.8,468.79 L629.8,468.79 L630.8,468.78 L631.8,468.78 L632.8,468.78 L633.8,468.78 L634.8,468.78 L635.8,468.78 L636.8,468.78 L637.8,468.78 L638.8,468.78 L639.8,468.78 L640.8,468.78 L641.8,468.78 L642.8,468.78 L643.8,468.78 L644.8,468.77 L645.8,468.77 L646.8,468.77 L647.8,468.77 L648.8,468.77 L649.8,468.77 L650.8,468.77 L651.8,468.77 L652.8,468.77 L653.8,468.77 L654.8,468.77 L655.8,468.77 L656.8,468.77 L657.8,468.77 L658.8,468.77 L659.8,468.77 L660.8,468.77 L661.8,468.77 L662.8,468.77 L663.8,468.77 L664.8,468.77 L665.8,468.77 L666.8,468.77 L667.8,468.77 L668.8,468.77 L669.8,468.77 L670.8,468.77 L671.8,468.77 L672.8,468.77 L673.8,468.77 L674.8,468.77 L675.8,468.77 L676.8,468.77 L677.8,468.77 L678.8,468.77 L679.8,468.77 L680.8,468.77 L681.8,468.77 L682.8,468.77 L683.8,468.77 L684.8,468.77 L685.8,468.77 L686.8,468.77 L687.8,468.77 L688.8,468.77 L689.8,468.77 L690.8,468.77 L691.8,468.77 L692.8,468.77 L693.8,468.77 L694.8,468.77 L695.8,468.77 L696.8,468.77 L697.8,468.77 L698.8,468.77 L699.8,468.77 L700.8,468.77 L701.8,468.77 L702.8,468.77 L703.8,468.77 L704.8,468.77 L705.8,468.77 L706.8,468.77 L707.8,468.77 L708.8,468.77 L709.8,468.77 L710.8,468.77 L711.8,468.77 L712.8,468.77 L713.8,468.77 L714.8,468.77 L715.8,468.77 L716.8,468.77 L717.8,468.77 L718.8,468.77 L719.8,468.77 L720.8,468.77 L721.8,468.77 L722.8,468.77 L723.8,468.77 L724.8,468.77 L725.8,468.77 L726.8,468.77 L727.8,468.77 L728.8,468.77 L729.8,468.77 L730.8,468.77 L731.8,468.77 L732.8,468.77 L733.8,468.77 L734.8,468.77 L735.8,468.77 L736.8,468.77 L737.8,468.77 L738.8,468.77 L739.8,468.77 L740.8,468.77 L741.8,468.77 L742.8,468.77 L743.8,468.77 L744.8,468.77 L745.8,468.77 L746.8,468.77 L747.8,468.77 L748.8,468.77 L749.8,468.77 L750.8,468.77 L751.8,468.77 L752.8,468.77 L753.8,468.77 L754.8,468.77" stroke="#ff0000" stroke-width="2.7" fill="none" stroke-linejoin="round"/>
</g>
<path d="M86.8,420.2H755.2V711.6H86.8Z" stroke="#000" stroke-width="1.5" fill="none" stroke-linejoin="miter"/>
<text x="158.2" y="739.9" text-anchor="middle">6707.4</text>
<text x="269.6" y="739.9" text-anchor="middle">6707.7</text>
<text x="383.9" y="739.9" text-anchor="middle">6708</text>
<text x="492.4" y="739.9" text-anchor="middle">6708.3</text>
<text x="603.8" y="739.9" text-anchor="middle">6708.6</text>
<text x="715.2" y="739.9" text-anchor="middle">6708.9</text>
<text x="71.6" y="721.2" text-anchor="end">0.85</text>
<text x="71.6" y="640.3" text-anchor="end">0.90</text>
<text x="71.6" y="559.3" text-anchor="end">0.95</text>
<text x="71.6" y="478.4" text-anchor="end">1.00</text>
<text x="422.6" y="767.6" text-anchor="middle">Lambda</text>
<text class="yl" transform="translate(23.2,566.3) rotate(-90) scale(0.775,1)" text-anchor="middle" style="font-size:20px;stroke:#000;stroke-width:0.25px">Arbitrary Flux</text>
<text x="383.6" y="606.7" style="letter-spacing:-0.12px">HE 0105-6141</text>
<text x="383.6" y="630.9">Li I 6707.761 A</text>
<text x="383.6" y="655.1" style="fill:#ff0000;stroke:#ff0000">A(Li) = 1.16</text>
<text x="383.6" y="679.3" style="fill:#0000ff;stroke:#0000ff">A(Li) = 1.60,1.20,0.80,none</text>
</svg></body></html>
